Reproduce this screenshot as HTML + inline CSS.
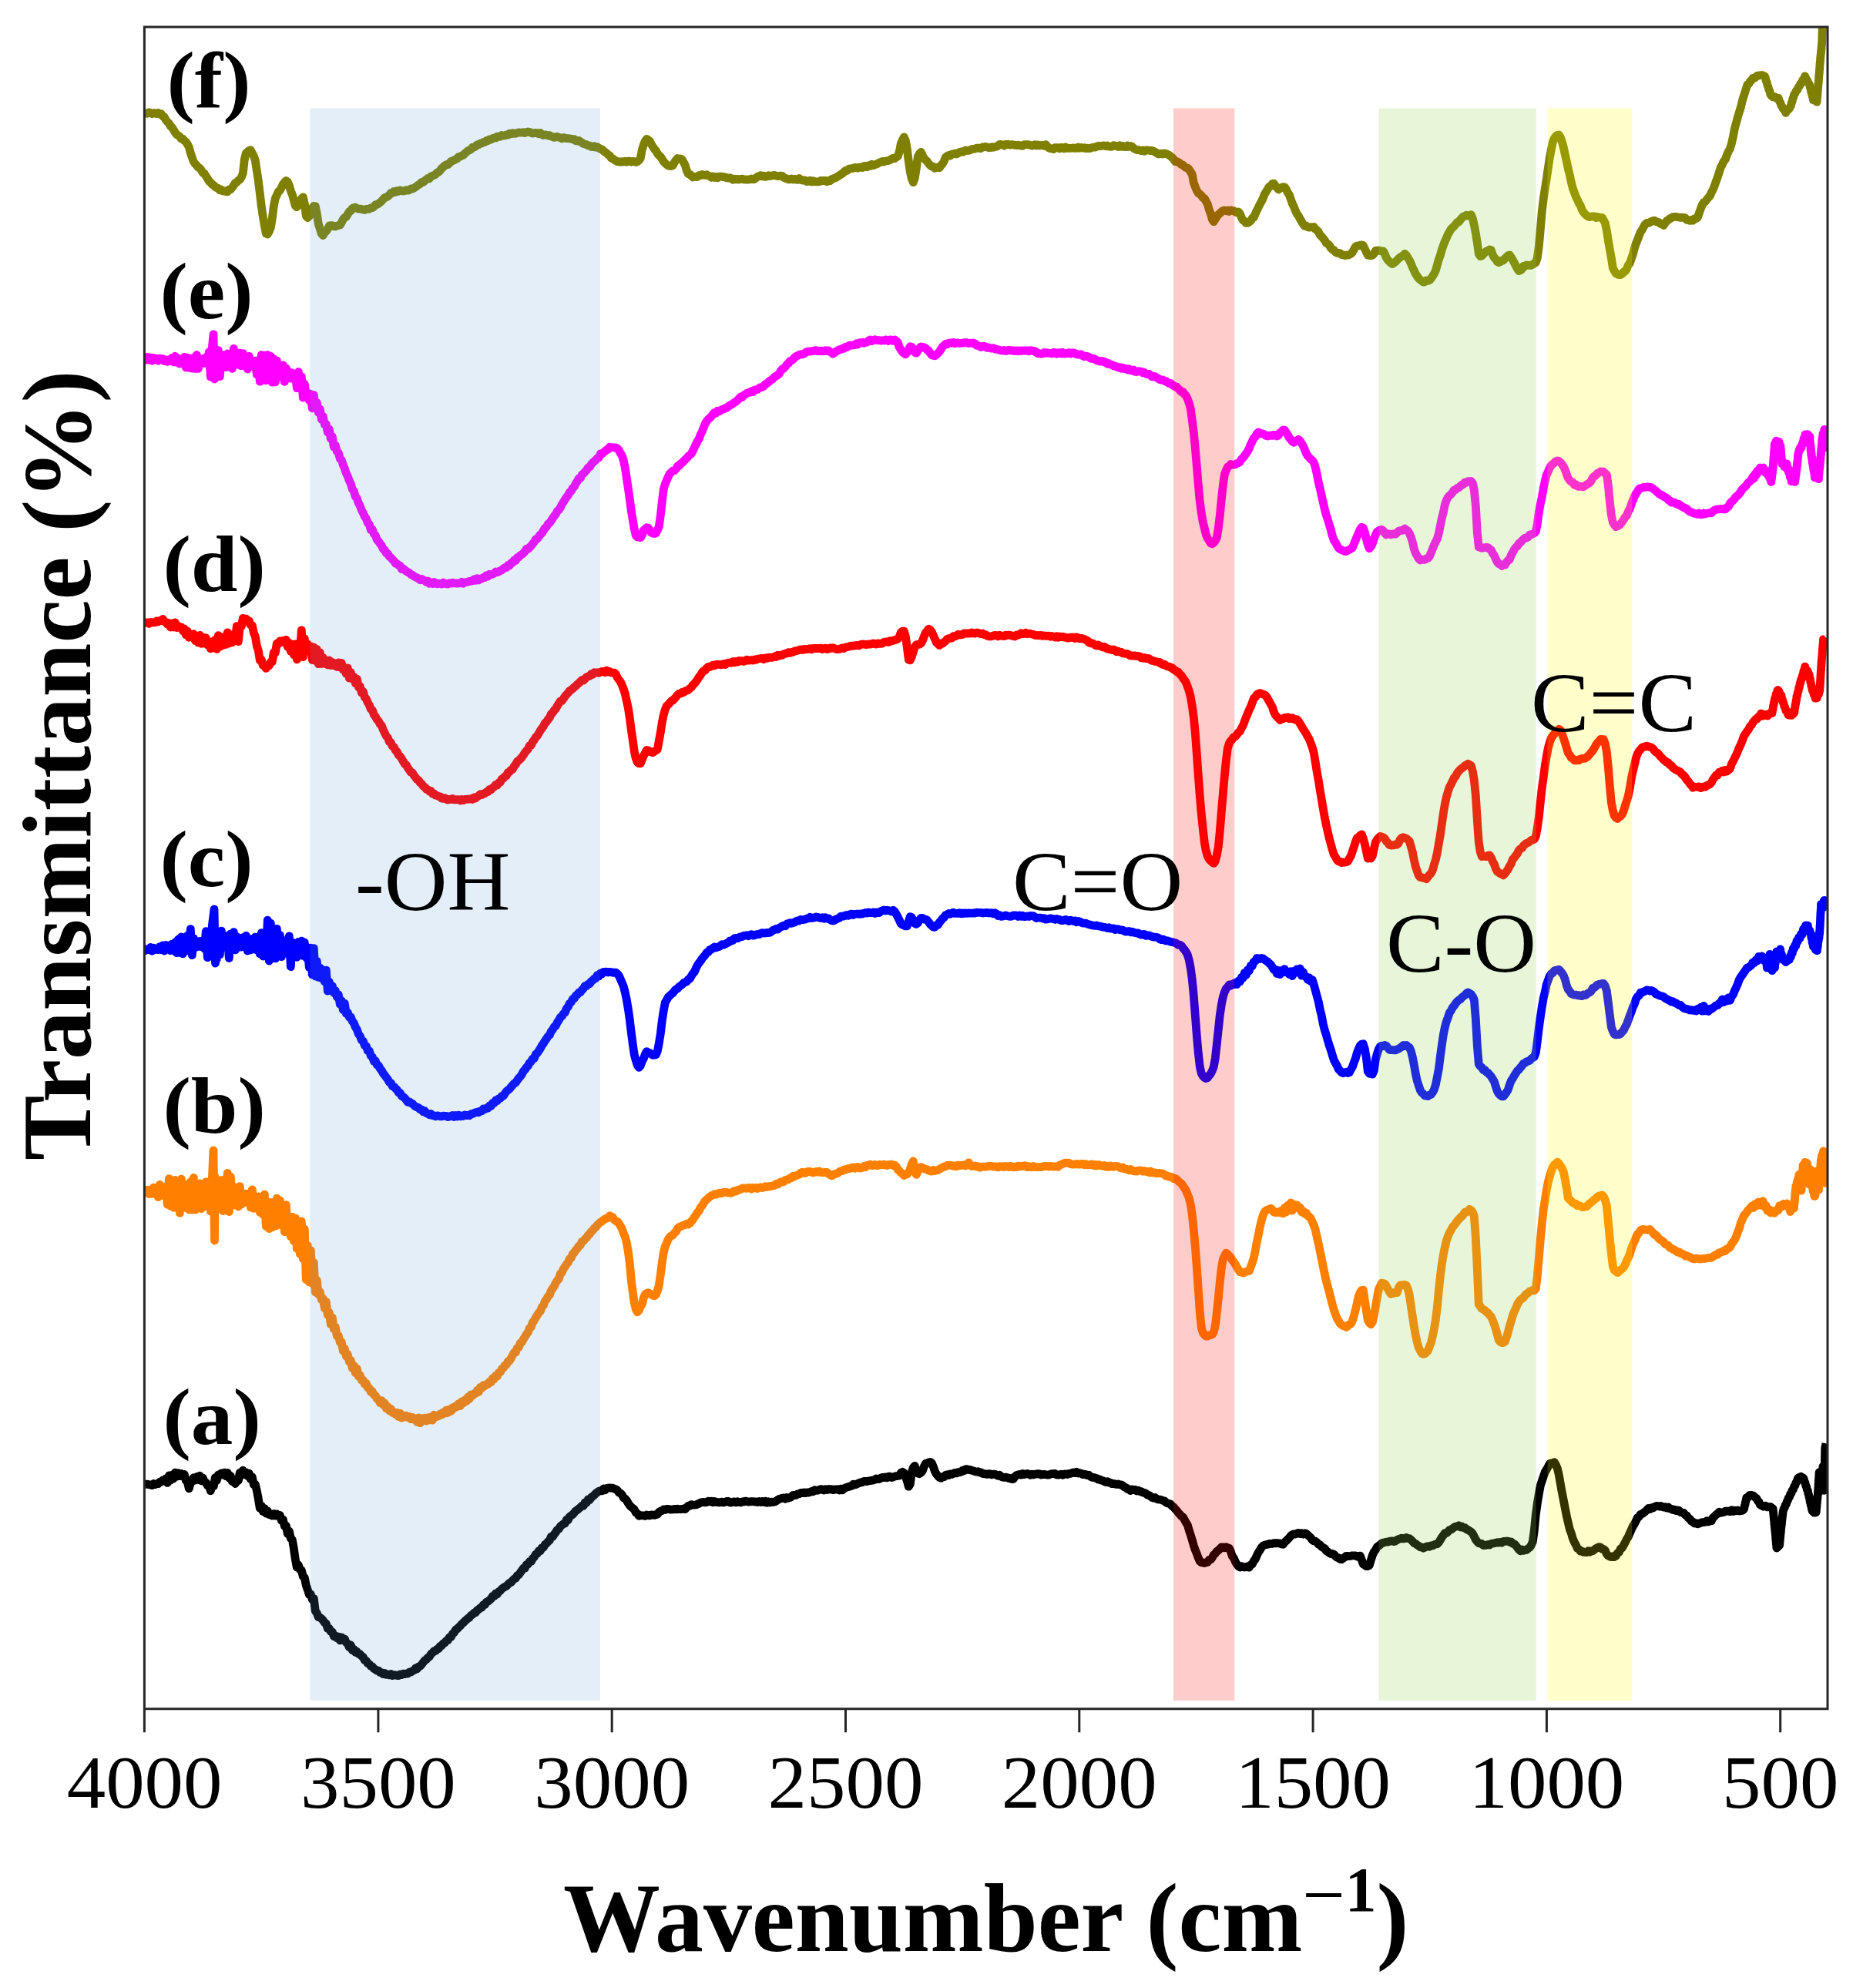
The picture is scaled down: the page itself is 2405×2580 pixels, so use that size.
<!DOCTYPE html>
<html><head><meta charset="utf-8"><title>FTIR spectra</title>
<style>
html,body{margin:0;padding:0;background:#fff;}
svg{display:block;}
text{font-family:"Liberation Serif",serif;fill:#000;}
.b{font-weight:bold;}
</style></head><body>
<svg width="2405" height="2580" viewBox="0 0 2405 2580">
<rect x="0" y="0" width="2405" height="2580" fill="#fff"/>
<defs><clipPath id="cp"><rect x="187.5" y="34" width="2183.5" height="2184.5"/></clipPath></defs>
<g clip-path="url(#cp)">
<path d="M187.3 1927.0 L189.3 1926.1 L191.3 1926.2 L193.3 1926.6 L195.3 1926.9 L197.3 1927.6 L199.3 1925.6 L201.3 1926.6 L203.3 1925.6 L205.3 1925.7 L207.3 1923.3 L209.3 1923.1 L211.3 1920.9 L213.3 1921.6 L215.3 1918.7 L217.3 1924.4 L219.3 1914.9 L221.3 1921.1 L223.3 1914.1 L225.3 1918.9 L227.3 1911.1 L229.3 1916.2 L231.3 1911.6 L233.3 1915.6 L235.3 1912.5 L237.3 1914.0 L239.3 1913.5 L241.3 1921.3 L243.3 1923.4 L245.3 1931.8 L247.3 1924.3 L249.3 1922.8 L251.3 1917.7 L253.3 1921.1 L255.3 1916.5 L257.3 1920.5 L259.3 1915.2 L261.3 1921.8 L263.3 1918.0 L265.3 1923.1 L267.3 1923.9 L269.3 1928.0 L271.3 1927.7 L273.3 1934.7 L275.3 1927.9 L277.3 1928.8 L279.3 1917.6 L281.3 1921.4 L283.3 1914.2 L285.3 1913.9 L287.3 1911.9 L289.3 1914.0 L291.3 1911.1 L293.3 1915.7 L295.3 1911.4 L297.3 1918.0 L299.3 1915.5 L301.3 1922.5 L303.3 1921.9 L305.3 1925.5 L307.3 1922.3 L309.3 1921.6 L311.3 1911.3 L313.3 1914.6 L315.3 1908.2 L317.3 1913.1 L319.3 1911.0 L321.3 1915.5 L323.3 1912.2 L325.3 1919.7 L327.3 1916.7 L329.3 1926.7 L331.3 1926.3 L333.3 1934.5 L335.3 1945.1 L337.3 1957.4 L339.3 1954.3 L341.3 1961.6 L343.3 1957.6 L345.3 1964.1 L347.3 1960.8 L349.3 1965.6 L351.3 1965.9 L353.3 1967.0 L355.3 1964.5 L357.3 1967.2 L359.3 1965.0 L361.3 1967.5 L363.3 1966.4 L365.3 1973.3 L367.3 1972.0 L369.3 1980.6 L371.3 1980.0 L373.3 1990.6 L375.3 1986.9 L377.3 1996.5 L379.3 1998.1 L381.3 2009.4 L383.3 2023.6 L385.3 2034.0 L387.3 2031.0 L389.3 2037.0 L391.3 2037.8 L393.3 2045.9 L395.3 2047.4 L397.3 2057.5 L399.3 2063.1 L401.3 2069.3 L403.3 2068.9 L405.3 2075.8 L407.3 2074.4 L409.3 2090.8 L411.3 2093.5 L413.3 2098.8 L415.3 2099.2 L417.3 2100.6 L419.3 2102.8 L421.3 2105.9 L423.3 2107.1 L425.3 2113.5 L427.3 2113.3 L429.3 2117.4 L431.3 2117.8 L433.3 2123.6 L435.3 2123.0 L437.3 2125.7 L439.3 2124.1 L441.3 2129.0 L443.3 2124.8 L445.3 2128.1 L447.3 2126.9 L449.3 2131.6 L451.3 2133.2 L453.3 2137.7 L455.3 2135.0 L457.3 2141.7 L459.3 2140.3 L461.3 2144.2 L463.3 2143.5 L465.3 2146.4 L467.3 2146.7 L469.3 2149.3 L471.3 2150.4 L473.3 2154.8 L475.3 2155.2 L477.3 2158.7 L479.3 2159.6 L481.3 2162.3 L483.3 2162.9 L485.3 2165.7 L487.3 2166.6 L489.3 2168.1 L491.3 2168.2 L493.3 2170.7 L495.3 2170.7 L497.3 2172.6 L499.3 2171.6 L501.3 2173.3 L503.3 2172.9 L505.3 2173.9 L507.3 2172.6 L509.3 2174.5 L511.3 2173.6 L513.3 2173.8 L515.3 2174.5 L517.3 2174.6 L519.3 2173.0 L521.3 2173.5 L523.3 2172.1 L525.3 2172.6 L527.3 2172.0 L529.3 2172.0 L531.3 2170.0 L533.3 2170.0 L535.3 2168.6 L537.3 2167.7 L539.3 2165.1 L541.3 2165.9 L543.3 2163.0 L545.3 2162.2 L547.3 2160.1 L549.3 2157.4 L551.3 2154.9 L553.3 2153.7 L555.3 2151.3 L557.3 2150.1 L559.3 2146.7 L561.3 2145.0 L563.3 2142.7 L565.3 2142.7 L567.3 2140.2 L569.3 2139.7 L571.3 2136.3 L573.3 2135.8 L575.3 2132.9 L577.3 2132.0 L579.3 2129.3 L581.3 2128.7 L583.3 2124.8 L585.3 2124.7 L587.3 2120.5 L589.3 2118.9 L591.3 2115.2 L593.3 2114.0 L595.3 2111.8 L597.3 2110.1 L599.3 2107.6 L601.3 2106.0 L603.3 2103.8 L605.3 2102.1 L607.3 2100.4 L609.3 2099.1 L611.3 2096.4 L613.3 2095.3 L615.3 2093.1 L617.3 2092.9 L619.3 2089.8 L621.3 2088.6 L623.3 2086.7 L625.3 2086.2 L627.3 2082.6 L629.3 2082.8 L631.3 2079.0 L633.3 2078.3 L635.3 2076.6 L637.3 2074.9 L639.3 2071.5 L641.3 2071.8 L643.3 2067.9 L645.3 2069.0 L647.3 2065.7 L649.3 2064.5 L651.3 2062.0 L653.3 2060.5 L655.3 2059.3 L657.3 2058.5 L659.3 2056.2 L661.3 2054.3 L663.3 2053.6 L665.3 2051.1 L667.3 2049.2 L669.3 2048.2 L671.3 2044.9 L673.3 2043.6 L675.3 2041.0 L677.3 2038.2 L679.3 2035.1 L681.3 2035.1 L683.3 2030.5 L685.3 2030.1 L687.3 2026.5 L689.3 2026.7 L691.3 2022.8 L693.3 2020.7 L695.3 2017.3 L697.3 2016.2 L699.3 2012.6 L701.3 2012.8 L703.3 2008.6 L705.3 2008.4 L707.3 2004.5 L709.3 2003.1 L711.3 2000.7 L713.3 1999.1 L715.3 1994.3 L717.3 1994.4 L719.3 1991.1 L721.3 1988.7 L723.3 1985.3 L725.3 1984.4 L727.3 1980.8 L729.3 1979.3 L731.3 1977.6 L733.3 1977.0 L735.3 1972.5 L737.3 1972.6 L739.3 1968.3 L741.3 1966.9 L743.3 1965.5 L745.3 1963.2 L747.3 1960.8 L749.3 1959.6 L751.3 1957.9 L753.3 1956.3 L755.3 1954.2 L757.3 1954.2 L759.3 1949.9 L761.3 1950.2 L763.3 1946.0 L765.3 1946.6 L767.3 1943.4 L769.3 1942.1 L771.3 1940.3 L773.3 1938.1 L775.3 1936.6 L777.3 1935.3 L779.3 1934.8 L781.3 1934.9 L783.3 1932.0 L785.3 1933.8 L787.3 1931.5 L789.3 1931.1 L791.3 1930.9 L793.3 1931.1 L795.3 1931.2 L797.3 1932.3 L799.3 1932.7 L801.3 1934.3 L803.3 1937.0 L805.3 1937.9 L807.3 1939.9 L809.3 1943.9 L811.3 1944.7 L813.3 1947.3 L815.3 1950.8 L817.3 1953.7 L819.3 1955.8 L821.3 1957.3 L823.3 1959.1 L825.3 1963.0 L827.3 1964.3 L829.3 1967.3 L831.3 1966.6 L833.3 1966.9 L835.3 1966.8 L837.3 1967.5 L839.3 1966.0 L841.3 1966.9 L843.3 1966.9 L845.3 1965.8 L847.3 1966.1 L849.3 1966.4 L851.3 1965.6 L853.3 1965.3 L855.3 1962.3 L857.3 1961.1 L859.3 1960.5 L861.3 1958.9 L863.3 1959.4 L865.3 1958.4 L867.3 1958.3 L869.3 1958.9 L871.3 1959.2 L873.3 1959.0 L875.3 1958.4 L877.3 1958.8 L879.3 1958.1 L881.3 1958.7 L883.3 1958.6 L885.3 1958.4 L887.3 1957.9 L889.3 1958.5 L891.3 1956.3 L893.3 1954.2 L895.3 1954.3 L897.3 1952.7 L899.3 1953.0 L901.3 1953.2 L903.3 1953.0 L905.3 1951.9 L907.3 1951.5 L909.3 1950.0 L911.3 1949.6 L913.3 1949.4 L915.3 1949.9 L917.3 1949.5 L919.3 1948.1 L921.3 1948.8 L923.3 1948.2 L925.3 1949.8 L927.3 1948.4 L929.3 1949.4 L931.3 1949.7 L933.3 1950.0 L935.3 1949.6 L937.3 1949.1 L939.3 1950.0 L941.3 1949.3 L943.3 1948.3 L945.3 1948.3 L947.3 1950.0 L949.3 1950.0 L951.3 1949.2 L953.3 1948.9 L955.3 1949.9 L957.3 1948.8 L959.3 1949.7 L961.3 1949.8 L963.3 1948.8 L965.3 1949.0 L967.3 1948.1 L969.3 1948.6 L971.3 1949.2 L973.3 1948.9 L975.3 1948.6 L977.3 1948.6 L979.3 1949.0 L981.3 1949.0 L983.3 1949.5 L985.3 1948.5 L987.3 1949.5 L989.3 1948.4 L991.3 1949.5 L993.3 1948.2 L995.3 1950.1 L997.3 1948.8 L999.3 1950.0 L1001.3 1949.2 L1003.3 1949.5 L1005.3 1949.0 L1007.3 1948.1 L1009.3 1946.7 L1011.3 1945.5 L1013.3 1944.9 L1015.3 1944.2 L1017.3 1943.8 L1019.3 1945.1 L1021.3 1943.4 L1023.3 1944.3 L1025.3 1943.5 L1027.3 1942.3 L1029.3 1940.3 L1031.3 1940.7 L1033.3 1940.4 L1035.3 1938.8 L1037.3 1938.8 L1039.3 1937.5 L1041.3 1937.6 L1043.3 1936.9 L1045.3 1937.6 L1047.3 1936.9 L1049.3 1937.2 L1051.3 1936.5 L1053.3 1935.4 L1055.3 1935.8 L1057.3 1933.7 L1059.3 1934.4 L1061.3 1934.2 L1063.3 1933.4 L1065.3 1932.6 L1067.3 1932.9 L1069.3 1934.0 L1071.3 1932.7 L1073.3 1933.5 L1075.3 1932.4 L1077.3 1933.0 L1079.3 1932.6 L1081.3 1933.6 L1083.3 1932.9 L1085.3 1933.1 L1087.3 1932.7 L1089.3 1933.9 L1091.3 1932.4 L1093.3 1933.9 L1095.3 1931.6 L1097.3 1931.0 L1099.3 1930.0 L1101.3 1929.6 L1103.3 1928.8 L1105.3 1928.5 L1107.3 1926.2 L1109.3 1926.9 L1111.3 1926.4 L1113.3 1925.4 L1115.3 1924.5 L1117.3 1923.7 L1119.3 1923.8 L1121.3 1922.3 L1123.3 1922.3 L1125.3 1922.7 L1127.3 1921.8 L1129.3 1921.7 L1131.3 1921.2 L1133.3 1921.1 L1135.3 1920.3 L1137.3 1919.0 L1139.3 1919.7 L1141.3 1919.4 L1143.3 1918.1 L1145.3 1917.4 L1147.3 1917.6 L1149.3 1916.9 L1151.3 1917.8 L1153.3 1916.2 L1155.3 1916.2 L1157.3 1917.5 L1159.3 1917.0 L1161.3 1916.0 L1163.3 1915.7 L1165.3 1915.4 L1167.3 1915.2 L1169.3 1911.5 L1171.3 1910.3 L1173.3 1911.4 L1175.3 1916.0 L1177.3 1921.9 L1179.3 1929.2 L1181.3 1926.1 L1183.3 1910.4 L1185.3 1904.6 L1187.3 1902.4 L1189.3 1908.2 L1191.3 1912.0 L1193.3 1912.8 L1195.3 1911.3 L1197.3 1908.9 L1199.3 1903.2 L1201.3 1899.5 L1203.3 1898.6 L1205.3 1898.0 L1207.3 1897.4 L1209.3 1898.7 L1211.3 1903.3 L1213.3 1909.2 L1215.3 1913.0 L1217.3 1915.4 L1219.3 1917.4 L1221.3 1918.2 L1223.3 1916.6 L1225.3 1916.9 L1227.3 1914.5 L1229.3 1913.6 L1231.3 1914.6 L1233.3 1913.0 L1235.3 1913.4 L1237.3 1912.3 L1239.3 1911.3 L1241.3 1911.9 L1243.3 1910.6 L1245.3 1910.8 L1247.3 1910.2 L1249.3 1908.1 L1251.3 1908.7 L1253.3 1906.6 L1255.3 1906.7 L1257.3 1907.6 L1259.3 1907.5 L1261.3 1908.3 L1263.3 1908.9 L1265.3 1909.6 L1267.3 1910.2 L1269.3 1909.7 L1271.3 1911.0 L1273.3 1910.8 L1275.3 1912.5 L1277.3 1912.5 L1279.3 1913.0 L1281.3 1913.4 L1283.3 1912.6 L1285.3 1912.8 L1287.3 1913.8 L1289.3 1913.2 L1291.3 1913.2 L1293.3 1914.1 L1295.3 1915.3 L1297.3 1914.2 L1299.3 1916.1 L1301.3 1917.1 L1303.3 1917.4 L1305.3 1917.2 L1307.3 1917.5 L1309.3 1918.6 L1311.3 1918.5 L1313.3 1919.7 L1315.3 1919.5 L1317.3 1916.3 L1319.3 1914.6 L1321.3 1913.9 L1323.3 1913.4 L1325.3 1914.0 L1327.3 1912.4 L1329.3 1913.6 L1331.3 1913.1 L1333.3 1912.5 L1335.3 1913.0 L1337.3 1914.3 L1339.3 1913.2 L1341.3 1913.9 L1343.3 1913.2 L1345.3 1913.1 L1347.3 1912.6 L1349.3 1912.9 L1351.3 1914.0 L1353.3 1913.5 L1355.3 1913.5 L1357.3 1913.6 L1359.3 1914.2 L1361.3 1914.1 L1363.3 1913.2 L1365.3 1912.6 L1367.3 1912.6 L1369.3 1912.5 L1371.3 1914.0 L1373.3 1914.2 L1375.3 1913.7 L1377.3 1913.2 L1379.3 1914.3 L1381.3 1913.1 L1383.3 1912.8 L1385.3 1913.5 L1387.3 1912.4 L1389.3 1912.4 L1391.3 1911.6 L1393.3 1910.9 L1395.3 1911.6 L1397.3 1910.3 L1399.3 1912.1 L1401.3 1911.6 L1403.3 1912.2 L1405.3 1913.6 L1407.3 1913.2 L1409.3 1913.6 L1411.3 1914.6 L1413.3 1914.2 L1415.3 1916.2 L1417.3 1917.4 L1419.3 1917.3 L1421.3 1918.1 L1423.3 1918.5 L1425.3 1920.1 L1427.3 1920.0 L1429.3 1921.2 L1431.3 1921.5 L1433.3 1922.8 L1435.3 1923.6 L1437.3 1922.6 L1439.3 1924.1 L1441.3 1924.4 L1443.3 1925.7 L1445.3 1925.3 L1447.3 1925.9 L1449.3 1926.4 L1451.3 1926.0 L1453.3 1926.9 L1455.3 1926.8 L1457.3 1928.1 L1459.3 1929.8 L1461.3 1930.5 L1463.3 1932.6 L1465.3 1932.6 L1467.3 1934.5 L1469.3 1933.0 L1471.3 1933.6 L1473.3 1933.3 L1475.3 1935.0 L1477.3 1934.2 L1479.3 1935.7 L1481.3 1935.6 L1483.3 1937.0 L1485.3 1937.4 L1487.3 1938.4 L1489.3 1940.1 L1491.3 1940.6 L1493.3 1941.9 L1495.3 1943.4 L1497.3 1944.2 L1499.3 1943.5 L1501.3 1945.2 L1503.3 1946.0 L1505.3 1946.2 L1507.3 1946.5 L1509.3 1947.5 L1511.3 1947.8 L1513.3 1949.9 L1515.3 1950.8 L1517.3 1951.4 L1519.3 1952.1 L1521.3 1954.7 L1523.3 1955.9 L1525.3 1958.4 L1527.3 1960.3 L1529.3 1963.2 L1531.3 1965.3 L1533.3 1967.6 L1535.3 1968.8 L1537.3 1972.2 L1539.3 1976.0 L1541.3 1979.1 L1543.3 1986.0 L1545.3 1992.1 L1547.3 1998.5 L1549.3 2005.8 L1551.3 2011.5 L1553.3 2016.4 L1555.3 2021.8 L1557.3 2026.1 L1559.3 2027.8 L1561.3 2028.0 L1563.3 2028.6 L1565.3 2027.8 L1567.3 2027.5 L1569.3 2024.3 L1571.3 2024.0 L1573.3 2021.6 L1575.3 2017.7 L1577.3 2016.2 L1579.3 2013.4 L1581.3 2012.0 L1583.3 2009.8 L1585.3 2007.9 L1587.3 2007.9 L1589.3 2008.9 L1591.3 2007.7 L1593.3 2008.9 L1595.3 2009.1 L1597.3 2013.4 L1599.3 2019.6 L1601.3 2022.0 L1603.3 2026.7 L1605.3 2030.0 L1607.3 2032.6 L1609.3 2034.0 L1611.3 2032.7 L1613.3 2033.7 L1615.3 2034.0 L1617.3 2033.6 L1619.3 2032.8 L1621.3 2034.1 L1623.3 2030.7 L1625.3 2029.9 L1627.3 2025.7 L1629.3 2023.4 L1631.3 2018.6 L1633.3 2014.5 L1635.3 2011.6 L1637.3 2008.2 L1639.3 2006.1 L1641.3 2005.2 L1643.3 2004.6 L1645.3 2004.4 L1647.3 2003.5 L1649.3 2003.5 L1651.3 2003.3 L1653.3 2002.6 L1655.3 2002.9 L1657.3 2002.5 L1659.3 2002.8 L1661.3 2002.8 L1663.3 2003.9 L1665.3 2004.3 L1667.3 2001.6 L1669.3 1999.8 L1671.3 1997.7 L1673.3 1995.8 L1675.3 1993.1 L1677.3 1991.6 L1679.3 1990.9 L1681.3 1991.0 L1683.3 1990.1 L1685.3 1989.4 L1687.3 1990.6 L1689.3 1989.6 L1691.3 1991.0 L1693.3 1989.8 L1695.3 1990.3 L1697.3 1992.1 L1699.3 1993.8 L1701.3 1995.7 L1703.3 1998.7 L1705.3 2000.0 L1707.3 2000.2 L1709.3 2001.7 L1711.3 2004.3 L1713.3 2004.8 L1715.3 2007.3 L1717.3 2008.6 L1719.3 2009.4 L1721.3 2012.7 L1723.3 2013.8 L1725.3 2015.5 L1727.3 2016.6 L1729.3 2016.3 L1731.3 2017.3 L1733.3 2019.6 L1735.3 2021.2 L1737.3 2021.9 L1739.3 2023.4 L1741.3 2023.8 L1743.3 2022.2 L1745.3 2021.1 L1747.3 2019.3 L1749.3 2019.5 L1751.3 2019.5 L1753.3 2019.3 L1755.3 2018.8 L1757.3 2018.8 L1759.3 2018.9 L1761.3 2020.0 L1763.3 2019.4 L1765.3 2019.2 L1767.3 2024.5 L1769.3 2029.9 L1771.3 2031.1 L1773.3 2032.5 L1775.3 2032.6 L1777.3 2031.5 L1779.3 2025.0 L1781.3 2018.4 L1783.3 2014.0 L1785.3 2011.5 L1787.3 2007.6 L1789.3 2006.3 L1791.3 2004.7 L1793.3 2002.8 L1795.3 2002.1 L1797.3 2001.7 L1799.3 2001.1 L1801.3 2001.1 L1803.3 2000.4 L1805.3 2000.0 L1807.3 2000.0 L1809.3 2000.6 L1811.3 1999.9 L1813.3 1998.5 L1815.3 1997.6 L1817.3 1996.9 L1819.3 1996.1 L1821.3 1997.0 L1823.3 1996.7 L1825.3 1995.5 L1827.3 1996.5 L1829.3 1996.6 L1831.3 1998.2 L1833.3 2000.2 L1835.3 2002.6 L1837.3 2003.4 L1839.3 2005.0 L1841.3 2006.3 L1843.3 2007.9 L1845.3 2007.8 L1847.3 2009.2 L1849.3 2008.3 L1851.3 2007.2 L1853.3 2006.6 L1855.3 2007.3 L1857.3 2006.0 L1859.3 2005.9 L1861.3 2004.8 L1863.3 2003.9 L1865.3 2003.8 L1867.3 2001.9 L1869.3 1998.7 L1871.3 1995.1 L1873.3 1992.6 L1875.3 1989.6 L1877.3 1989.7 L1879.3 1987.9 L1881.3 1985.7 L1883.3 1985.1 L1885.3 1983.6 L1887.3 1982.2 L1889.3 1981.2 L1891.3 1981.0 L1893.3 1979.8 L1895.3 1981.9 L1897.3 1981.0 L1899.3 1982.7 L1901.3 1982.6 L1903.3 1984.5 L1905.3 1985.7 L1907.3 1986.7 L1909.3 1988.0 L1911.3 1990.2 L1913.3 1994.0 L1915.3 1998.0 L1917.3 2000.7 L1919.3 2002.7 L1921.3 2003.1 L1923.3 2003.6 L1925.3 2005.5 L1927.3 2005.4 L1929.3 2005.3 L1931.3 2004.5 L1933.3 2005.1 L1935.3 2003.5 L1937.3 2003.0 L1939.3 2002.8 L1941.3 2002.3 L1943.3 2001.7 L1945.3 2002.1 L1947.3 2001.4 L1949.3 2002.2 L1951.3 2000.5 L1953.3 2000.4 L1955.3 2000.0 L1957.3 2000.2 L1959.3 2001.3 L1961.3 2001.0 L1963.3 2003.4 L1965.3 2003.6 L1967.3 2005.6 L1969.3 2008.3 L1971.3 2010.9 L1973.3 2012.7 L1975.3 2011.1 L1977.3 2012.4 L1979.3 2011.5 L1981.3 2011.5 L1983.3 2009.7 L1985.3 2008.3 L1987.3 2005.5 L1989.3 2000.8 L1991.3 1986.1 L1993.3 1965.5 L1995.3 1951.0 L1997.3 1939.0 L1999.3 1928.0 L2001.3 1922.1 L2003.3 1916.0 L2005.3 1910.4 L2007.3 1907.1 L2009.3 1903.5 L2011.3 1899.6 L2013.3 1898.9 L2015.3 1898.8 L2017.3 1897.6 L2019.3 1900.9 L2021.3 1905.6 L2023.3 1914.1 L2025.3 1925.6 L2027.3 1936.7 L2029.3 1946.9 L2031.3 1957.1 L2033.3 1967.4 L2035.3 1975.9 L2037.3 1984.6 L2039.3 1989.8 L2041.3 1996.7 L2043.3 2001.3 L2045.3 2004.9 L2047.3 2009.5 L2049.3 2010.5 L2051.3 2013.2 L2053.3 2013.1 L2055.3 2014.4 L2057.3 2014.3 L2059.3 2014.6 L2061.3 2012.9 L2063.3 2014.2 L2065.3 2012.9 L2067.3 2012.6 L2069.3 2011.3 L2071.3 2009.5 L2073.3 2008.7 L2075.3 2007.7 L2077.3 2008.0 L2079.3 2010.4 L2081.3 2010.5 L2083.3 2012.0 L2085.3 2016.8 L2087.3 2019.0 L2089.3 2020.1 L2091.3 2020.7 L2093.3 2019.6 L2095.3 2020.5 L2097.3 2019.2 L2099.3 2015.7 L2101.3 2014.4 L2103.3 2010.0 L2105.3 2008.9 L2107.3 2005.3 L2109.3 2001.8 L2111.3 1997.6 L2113.3 1994.6 L2115.3 1989.6 L2117.3 1985.3 L2119.3 1980.8 L2121.3 1977.8 L2123.3 1973.9 L2125.3 1969.5 L2127.3 1968.4 L2129.3 1965.3 L2131.3 1964.7 L2133.3 1963.1 L2135.3 1961.8 L2137.3 1959.8 L2139.3 1957.6 L2141.3 1958.6 L2143.3 1956.6 L2145.3 1957.1 L2147.3 1955.6 L2149.3 1954.8 L2151.3 1954.3 L2153.3 1955.2 L2155.3 1954.4 L2157.3 1955.4 L2159.3 1956.0 L2161.3 1955.7 L2163.3 1957.1 L2165.3 1956.1 L2167.3 1957.9 L2169.3 1958.3 L2171.3 1959.5 L2173.3 1959.2 L2175.3 1960.6 L2177.3 1959.9 L2179.3 1960.5 L2181.3 1962.6 L2183.3 1963.2 L2185.3 1963.4 L2187.3 1966.2 L2189.3 1967.0 L2191.3 1969.9 L2193.3 1971.3 L2195.3 1974.3 L2197.3 1975.1 L2199.3 1977.0 L2201.3 1976.7 L2203.3 1977.9 L2205.3 1977.1 L2207.3 1976.4 L2209.3 1975.6 L2211.3 1975.6 L2213.3 1975.2 L2215.3 1973.7 L2217.3 1974.9 L2219.3 1973.5 L2221.3 1973.8 L2223.3 1969.5 L2225.3 1967.8 L2227.3 1965.8 L2229.3 1964.4 L2231.3 1962.3 L2233.3 1963.3 L2235.3 1962.8 L2237.3 1962.5 L2239.3 1961.1 L2241.3 1961.2 L2243.3 1961.0 L2245.3 1961.8 L2247.3 1959.8 L2249.3 1961.4 L2251.3 1960.1 L2253.3 1960.8 L2255.3 1960.0 L2257.3 1961.0 L2259.3 1960.8 L2261.3 1960.4 L2263.1 1959.1 L2263.7 1957.9 L2264.3 1954.1 L2264.9 1952.9 L2265.5 1949.2 L2266.1 1947.7 L2266.7 1943.8 L2268.7 1943.5 L2270.6 1940.4 L2272.6 1940.4 L2275.6 1941.0 L2278.6 1944.0 L2280.0 1944.8 L2281.4 1947.9 L2282.9 1948.9 L2284.3 1952.6 L2285.7 1953.6 L2288.5 1955.1 L2291.2 1954.1 L2294.0 1955.9 L2297.6 1955.5 L2301.1 1958.0 L2301.3 1959.6 L2301.6 1962.9 L2301.8 1964.5 L2302.1 1968.4 L2302.3 1969.4 L2302.5 1973.2 L2302.8 1974.2 L2303.0 1978.4 L2303.3 1979.7 L2303.5 1983.2 L2303.7 1984.4 L2304.0 1988.4 L2304.2 1989.6 L2304.5 1993.4 L2304.7 1995.0 L2304.9 1998.7 L2305.2 2000.3 L2305.4 2004.0 L2305.7 2005.0 L2305.9 2009.1 L2309.5 2005.6 L2309.8 2004.5 L2310.0 2000.1 L2310.3 1998.8 L2310.5 1995.3 L2310.8 1993.5 L2311.0 1989.7 L2311.3 1988.4 L2311.5 1984.6 L2311.8 1982.9 L2312.1 1979.5 L2312.4 1978.1 L2312.7 1973.7 L2313.0 1972.4 L2313.3 1968.2 L2313.6 1967.4 L2313.9 1963.3 L2314.2 1961.7 L2315.2 1958.0 L2316.2 1956.7 L2317.2 1953.1 L2318.3 1952.2 L2319.3 1948.8 L2320.3 1947.3 L2321.3 1943.8 L2322.5 1942.8 L2323.7 1939.0 L2324.9 1938.0 L2326.1 1934.1 L2327.3 1933.1 L2328.5 1929.3 L2329.7 1928.2 L2330.9 1924.5 L2332.0 1923.0 L2333.2 1919.0 L2334.4 1917.7 L2337.4 1916.3 L2340.3 1918.1 L2341.2 1919.3 L2342.0 1923.2 L2342.9 1924.1 L2343.7 1927.9 L2344.6 1929.6 L2345.4 1933.4 L2346.3 1934.4 L2346.9 1938.6 L2347.5 1939.6 L2348.1 1943.2 L2348.7 1944.7 L2349.2 1949.0 L2349.8 1950.2 L2350.4 1953.8 L2351.0 1955.5 L2351.6 1959.0 L2352.2 1960.8 L2354.6 1963.2 L2357.0 1962.8 L2357.3 1961.6 L2357.5 1957.7 L2357.8 1956.3 L2358.0 1952.4 L2358.3 1950.9 L2358.5 1947.1 L2358.8 1945.5 L2359.0 1941.6 L2359.3 1940.1 L2359.5 1936.6 L2359.6 1935.0 L2359.8 1931.5 L2360.0 1930.1 L2360.1 1926.3 L2360.3 1924.9 L2360.4 1921.2 L2360.6 1919.6 L2360.8 1916.1 L2360.9 1914.5 L2361.1 1910.7 L2361.4 1914.7 L2361.6 1915.3 L2361.9 1919.7 L2362.2 1920.5 L2362.4 1924.6 L2362.7 1925.4 L2363.0 1929.2 L2363.2 1930.7 L2363.5 1934.2 L2363.7 1930.3 L2363.9 1928.7 L2364.2 1925.2 L2364.4 1923.5 L2364.6 1919.9 L2364.8 1918.2 L2365.0 1914.1 L2365.2 1912.7 L2365.5 1908.9 L2365.7 1907.3 L2365.9 1903.2 L2366.1 1907.3 L2366.2 1908.7 L2366.4 1913.1 L2366.5 1914.6 L2366.7 1918.2 L2366.8 1919.9 L2367.0 1923.4 L2367.1 1925.3 L2367.3 1928.8 L2367.4 1930.8 L2367.6 1934.3 L2367.7 1930.6 L2367.7 1929.6 L2367.8 1925.5 L2367.8 1924.0 L2367.9 1920.5 L2367.9 1919.5 L2368.0 1915.6 L2368.0 1914.2 L2368.1 1910.0 L2368.1 1908.9 L2368.2 1905.6 L2368.3 1904.3 L2368.3 1900.3 L2368.4 1898.9 L2368.4 1895.2 L2368.5 1893.8 L2368.5 1890.0 L2368.6 1888.5 L2368.6 1885.0 L2368.7 1883.9 L2368.7 1879.9 L2368.8 1878.9 L2370.0 1873.3" fill="none" stroke="#000000" stroke-width="10.8" stroke-linejoin="round" stroke-linecap="butt"/>
<path d="M187.3 1545.8 L189.3 1547.9 L191.3 1544.3 L193.3 1549.5 L195.3 1544.0 L197.3 1549.4 L199.3 1541.2 L201.3 1548.9 L203.3 1543.2 L205.3 1553.5 L207.3 1537.4 L209.3 1550.1 L211.3 1541.9 L213.3 1552.3 L215.3 1540.1 L217.3 1563.2 L219.3 1529.7 L221.3 1565.3 L223.3 1538.4 L225.3 1567.3 L227.3 1531.3 L229.3 1566.5 L231.3 1534.4 L233.3 1574.3 L235.3 1530.2 L237.3 1566.0 L239.3 1537.0 L241.3 1567.7 L243.3 1538.8 L245.3 1569.9 L247.3 1533.7 L249.3 1570.0 L251.3 1528.5 L253.3 1570.1 L255.3 1539.7 L257.3 1559.0 L259.3 1536.0 L261.3 1568.7 L263.3 1541.3 L265.3 1565.6 L267.3 1533.8 L269.3 1558.0 L271.3 1533.7 L273.3 1572.1 L275.3 1531.2 L277.0 1493.0 L278.5 1610.0 L279.3 1527.3 L281.3 1562.1 L283.3 1540.1 L285.3 1565.4 L287.3 1531.7 L289.3 1571.5 L291.3 1530.9 L293.3 1562.3 L295.3 1522.3 L297.3 1572.6 L299.3 1527.4 L301.3 1558.0 L303.3 1540.3 L305.3 1564.1 L307.3 1543.5 L309.3 1565.8 L311.3 1539.6 L313.3 1563.0 L315.3 1548.9 L317.3 1560.5 L319.3 1549.1 L321.3 1558.4 L323.3 1552.1 L325.3 1567.0 L327.3 1543.8 L329.3 1568.3 L331.3 1553.1 L333.3 1567.6 L335.3 1552.8 L337.3 1573.3 L339.3 1562.6 L341.3 1576.3 L343.3 1550.2 L345.3 1591.4 L347.3 1562.8 L349.3 1594.5 L351.3 1560.5 L353.3 1592.6 L355.3 1560.5 L357.3 1591.2 L359.3 1555.2 L361.3 1588.9 L363.3 1558.0 L365.3 1589.9 L367.3 1564.1 L369.3 1598.6 L371.3 1563.6 L373.3 1595.9 L375.3 1584.1 L377.3 1604.8 L379.3 1579.5 L381.3 1610.7 L383.3 1580.9 L385.3 1620.4 L387.3 1593.2 L389.3 1627.4 L391.3 1584.9 L393.3 1633.8 L395.3 1595.1 L397.3 1660.6 L399.3 1616.4 L401.3 1663.9 L403.3 1622.8 L405.3 1666.1 L407.3 1638.7 L409.3 1676.9 L411.3 1661.6 L413.3 1679.8 L415.3 1676.6 L417.3 1686.8 L419.3 1685.3 L421.3 1697.9 L423.3 1689.6 L425.3 1706.5 L427.3 1703.1 L429.3 1718.7 L431.3 1710.0 L433.3 1724.8 L435.3 1722.1 L437.3 1733.8 L439.3 1733.4 L441.3 1741.9 L443.3 1741.8 L445.3 1753.2 L447.3 1750.1 L449.3 1760.2 L451.3 1757.5 L453.3 1767.2 L455.3 1765.4 L457.3 1775.6 L459.3 1772.2 L461.3 1781.8 L463.3 1776.0 L465.3 1786.3 L467.3 1784.9 L469.3 1791.1 L471.3 1791.1 L473.3 1796.4 L475.3 1795.3 L477.3 1801.1 L479.3 1801.7 L481.3 1806.3 L483.3 1805.8 L485.3 1810.5 L487.3 1811.2 L489.3 1815.3 L491.3 1816.4 L493.3 1820.7 L495.3 1817.6 L497.3 1823.1 L499.3 1820.9 L501.3 1827.7 L503.3 1825.6 L505.3 1830.7 L507.3 1828.3 L509.3 1833.4 L511.3 1832.7 L513.3 1835.5 L515.3 1833.3 L517.3 1838.6 L519.3 1834.1 L521.3 1840.1 L523.3 1836.8 L525.3 1838.7 L527.3 1837.4 L529.3 1839.4 L531.3 1838.6 L533.3 1841.7 L535.3 1839.5 L537.3 1842.3 L539.3 1841.0 L541.3 1845.5 L543.3 1839.8 L545.3 1846.7 L547.3 1840.6 L549.3 1843.7 L551.3 1840.1 L553.3 1844.1 L555.3 1839.7 L557.3 1842.9 L559.3 1838.8 L561.3 1843.2 L563.3 1836.1 L565.3 1839.2 L567.3 1838.2 L569.3 1837.7 L571.3 1835.1 L573.3 1836.0 L575.3 1832.9 L577.3 1834.2 L579.3 1830.2 L581.3 1833.5 L583.3 1829.1 L585.3 1831.4 L587.3 1826.7 L589.3 1827.6 L591.3 1824.7 L593.3 1825.7 L595.3 1821.7 L597.3 1824.6 L599.3 1819.0 L601.3 1821.1 L603.3 1816.9 L605.3 1818.7 L607.3 1813.0 L609.3 1815.5 L611.3 1809.9 L613.3 1811.3 L615.3 1808.9 L617.3 1808.3 L619.3 1804.4 L621.3 1806.6 L623.3 1800.4 L625.3 1801.6 L627.3 1797.9 L629.3 1798.7 L631.3 1796.5 L633.3 1796.5 L635.3 1793.2 L637.3 1793.8 L639.3 1788.8 L641.3 1789.8 L643.3 1785.4 L645.3 1785.9 L647.3 1781.5 L649.3 1780.9 L651.3 1776.6 L653.3 1775.5 L655.3 1771.8 L657.3 1771.2 L659.3 1766.6 L661.3 1766.3 L663.3 1762.6 L665.3 1759.1 L667.3 1755.2 L669.3 1755.1 L671.3 1749.2 L673.3 1748.8 L675.3 1742.8 L677.3 1742.2 L679.3 1738.2 L681.3 1735.0 L683.3 1731.5 L685.3 1729.2 L687.3 1723.6 L689.3 1722.3 L691.3 1716.1 L693.3 1713.7 L695.3 1710.1 L697.3 1706.9 L699.3 1703.7 L701.3 1701.6 L703.3 1696.3 L705.3 1694.3 L707.3 1688.9 L709.3 1686.3 L711.3 1682.5 L713.3 1680.7 L715.3 1675.0 L717.3 1672.2 L719.3 1669.1 L721.3 1664.9 L723.3 1661.8 L725.3 1659.7 L727.3 1652.9 L729.3 1651.5 L731.3 1646.6 L733.3 1644.1 L735.3 1640.6 L737.3 1638.5 L739.3 1633.6 L741.3 1632.6 L743.3 1627.3 L745.3 1625.6 L747.3 1622.3 L749.3 1620.4 L751.3 1617.1 L753.3 1615.9 L755.3 1611.3 L757.3 1610.6 L759.3 1608.0 L761.3 1606.4 L763.3 1603.1 L765.3 1601.6 L767.3 1598.3 L769.3 1597.0 L771.3 1593.8 L773.3 1592.7 L775.3 1589.8 L777.3 1588.0 L779.3 1586.2 L781.3 1584.9 L783.3 1583.4 L785.3 1581.8 L787.3 1581.1 L789.3 1580.6 L791.3 1577.7 L793.3 1579.0 L795.3 1579.7 L797.3 1583.0 L799.3 1584.7 L801.3 1585.2 L803.3 1587.7 L805.3 1591.0 L807.3 1594.7 L809.3 1600.6 L811.3 1605.2 L813.3 1612.7 L815.3 1624.1 L817.3 1639.7 L819.3 1661.2 L821.3 1676.7 L823.3 1691.0 L825.3 1699.2 L827.3 1702.8 L829.3 1700.6 L831.3 1695.6 L833.3 1692.9 L835.3 1684.3 L837.3 1679.7 L839.3 1678.3 L841.3 1677.6 L843.3 1679.4 L845.3 1679.5 L847.3 1681.3 L849.3 1681.8 L851.3 1680.2 L853.3 1675.2 L855.3 1668.0 L857.3 1654.2 L859.3 1638.6 L861.3 1625.3 L863.3 1617.8 L865.3 1613.3 L867.3 1608.3 L869.3 1605.4 L871.3 1603.8 L873.3 1602.8 L875.3 1600.1 L877.3 1598.5 L879.3 1594.5 L881.3 1592.6 L883.3 1591.9 L885.3 1590.8 L887.3 1590.2 L889.3 1589.6 L891.3 1588.3 L893.3 1589.1 L895.3 1587.7 L897.3 1585.0 L899.3 1582.8 L901.3 1579.5 L903.3 1577.1 L905.3 1573.3 L907.3 1571.4 L909.3 1566.9 L911.3 1564.8 L913.3 1561.4 L915.3 1558.3 L917.3 1556.8 L919.3 1554.8 L921.3 1553.1 L923.3 1551.7 L925.3 1551.0 L927.3 1549.7 L929.3 1550.2 L931.3 1549.5 L933.3 1548.2 L935.3 1548.8 L937.3 1548.4 L939.3 1547.1 L941.3 1547.1 L943.3 1547.5 L945.3 1548.2 L947.3 1548.2 L949.3 1548.3 L951.3 1546.4 L953.3 1545.6 L955.3 1546.1 L957.3 1544.6 L959.3 1544.1 L961.3 1543.4 L963.3 1542.2 L965.3 1541.9 L967.3 1542.2 L969.3 1542.3 L971.3 1541.4 L973.3 1541.7 L975.3 1543.1 L977.3 1541.5 L979.3 1541.9 L981.3 1541.4 L983.3 1542.5 L985.3 1541.5 L987.3 1540.7 L989.3 1541.5 L991.3 1541.0 L993.3 1539.7 L995.3 1540.5 L997.3 1539.6 L999.3 1539.8 L1001.3 1539.1 L1003.3 1539.2 L1005.3 1538.0 L1007.3 1536.5 L1009.3 1537.1 L1011.3 1535.5 L1013.3 1533.8 L1015.3 1533.9 L1017.3 1533.6 L1019.3 1531.5 L1021.3 1531.1 L1023.3 1530.9 L1025.3 1528.8 L1027.3 1528.6 L1029.3 1526.3 L1031.3 1526.8 L1033.3 1525.7 L1035.3 1524.8 L1037.3 1524.1 L1039.3 1522.1 L1041.3 1521.2 L1043.3 1522.4 L1045.3 1522.5 L1047.3 1520.8 L1049.3 1520.4 L1051.3 1520.5 L1053.3 1521.2 L1055.3 1522.0 L1057.3 1521.3 L1059.3 1520.5 L1061.3 1521.1 L1063.3 1520.0 L1065.3 1521.5 L1067.3 1521.6 L1069.3 1521.6 L1071.3 1521.4 L1073.3 1521.4 L1075.3 1523.3 L1077.3 1524.5 L1079.3 1525.9 L1081.3 1525.2 L1083.3 1523.5 L1085.3 1523.2 L1087.3 1522.4 L1089.3 1520.9 L1091.3 1519.9 L1093.3 1519.7 L1095.3 1517.8 L1097.3 1518.2 L1099.3 1517.1 L1101.3 1516.5 L1103.3 1516.5 L1105.3 1515.4 L1107.3 1515.0 L1109.3 1516.3 L1111.3 1515.1 L1113.3 1514.5 L1115.3 1516.0 L1117.3 1515.9 L1119.3 1515.2 L1121.3 1513.6 L1123.3 1514.7 L1125.3 1512.4 L1127.3 1512.3 L1129.3 1511.1 L1131.3 1512.3 L1133.3 1512.6 L1135.3 1511.5 L1137.3 1512.4 L1139.3 1512.7 L1141.3 1511.5 L1143.3 1511.6 L1145.3 1512.1 L1147.3 1511.2 L1149.3 1511.9 L1151.3 1512.5 L1153.3 1511.3 L1155.3 1511.4 L1157.3 1511.1 L1159.3 1512.6 L1161.3 1512.2 L1163.3 1514.0 L1165.3 1517.9 L1167.3 1519.6 L1169.3 1521.8 L1171.3 1523.2 L1173.3 1525.6 L1175.3 1523.9 L1177.3 1524.0 L1179.3 1521.3 L1181.3 1517.6 L1183.3 1510.8 L1185.3 1507.0 L1187.3 1519.2 L1189.3 1524.4 L1191.3 1520.2 L1193.3 1515.9 L1195.3 1514.6 L1197.3 1515.7 L1199.3 1516.7 L1201.3 1517.4 L1203.3 1517.8 L1205.3 1519.0 L1207.3 1519.9 L1209.3 1520.1 L1211.3 1518.4 L1213.3 1519.5 L1215.3 1518.8 L1217.3 1518.6 L1219.3 1517.4 L1221.3 1516.1 L1223.3 1515.2 L1225.3 1514.1 L1227.3 1513.9 L1229.3 1512.3 L1231.3 1512.4 L1233.3 1512.2 L1235.3 1512.7 L1237.3 1513.4 L1239.3 1512.9 L1241.3 1513.8 L1243.3 1512.1 L1245.3 1512.5 L1247.3 1512.4 L1249.3 1512.3 L1251.3 1511.8 L1253.3 1512.9 L1255.3 1511.3 L1257.3 1508.8 L1259.3 1512.1 L1261.3 1513.5 L1263.3 1513.4 L1265.3 1513.0 L1267.3 1514.2 L1269.3 1513.6 L1271.3 1515.0 L1273.3 1515.0 L1275.3 1514.0 L1277.3 1514.2 L1279.3 1514.3 L1281.3 1513.9 L1283.3 1513.2 L1285.3 1513.5 L1287.3 1513.3 L1289.3 1514.2 L1291.3 1513.8 L1293.3 1514.1 L1295.3 1514.9 L1297.3 1513.6 L1299.3 1514.2 L1301.3 1513.6 L1303.3 1514.6 L1305.3 1513.4 L1307.3 1513.9 L1309.3 1514.6 L1311.3 1513.2 L1313.3 1514.1 L1315.3 1514.8 L1317.3 1514.4 L1319.3 1514.7 L1321.3 1513.1 L1323.3 1513.9 L1325.3 1513.4 L1327.3 1513.5 L1329.3 1513.0 L1331.3 1512.9 L1333.3 1514.7 L1335.3 1513.7 L1337.3 1514.6 L1339.3 1514.7 L1341.3 1513.4 L1343.3 1514.5 L1345.3 1514.7 L1347.3 1514.6 L1349.3 1514.7 L1351.3 1514.7 L1353.3 1513.9 L1355.3 1513.4 L1357.3 1513.6 L1359.3 1513.4 L1361.3 1514.0 L1363.3 1513.4 L1365.3 1513.8 L1367.3 1514.2 L1369.3 1513.9 L1371.3 1514.0 L1373.3 1514.3 L1375.3 1512.1 L1377.3 1511.4 L1379.3 1510.5 L1381.3 1509.5 L1383.3 1509.1 L1385.3 1509.4 L1387.3 1509.2 L1389.3 1510.6 L1391.3 1511.1 L1393.3 1511.2 L1395.3 1511.0 L1397.3 1510.5 L1399.3 1511.0 L1401.3 1511.0 L1403.3 1510.7 L1405.3 1510.4 L1407.3 1511.7 L1409.3 1510.7 L1411.3 1511.9 L1413.3 1512.0 L1415.3 1511.2 L1417.3 1510.9 L1419.3 1512.6 L1421.3 1511.4 L1423.3 1513.0 L1425.3 1511.6 L1427.3 1511.9 L1429.3 1512.8 L1431.3 1513.4 L1433.3 1512.5 L1435.3 1514.3 L1437.3 1513.3 L1439.3 1514.4 L1441.3 1512.9 L1443.3 1513.9 L1445.3 1514.4 L1447.3 1513.5 L1449.3 1513.5 L1451.3 1514.0 L1453.3 1515.3 L1455.3 1516.0 L1457.3 1515.0 L1459.3 1517.0 L1461.3 1517.0 L1463.3 1517.9 L1465.3 1518.9 L1467.3 1517.5 L1469.3 1518.9 L1471.3 1519.8 L1473.3 1519.9 L1475.3 1520.2 L1477.3 1519.2 L1479.3 1519.0 L1481.3 1519.1 L1483.3 1520.1 L1485.3 1519.7 L1487.3 1520.4 L1489.3 1520.3 L1491.3 1521.7 L1493.3 1520.1 L1495.3 1521.9 L1497.3 1521.8 L1499.3 1521.8 L1501.3 1522.9 L1503.3 1522.4 L1505.3 1522.6 L1507.3 1522.8 L1509.3 1523.1 L1511.3 1524.3 L1513.3 1526.4 L1515.3 1526.0 L1517.3 1527.3 L1519.3 1527.1 L1521.3 1527.9 L1523.3 1529.8 L1525.3 1529.4 L1527.3 1530.6 L1529.3 1532.7 L1531.3 1534.5 L1533.3 1536.0 L1535.3 1538.8 L1537.3 1542.0 L1539.3 1544.8 L1541.3 1550.3 L1543.3 1554.7 L1545.3 1563.4 L1547.3 1575.9 L1549.3 1595.8 L1551.3 1617.6 L1553.3 1644.6 L1555.3 1673.5 L1557.3 1703.0 L1559.3 1722.9 L1561.3 1729.7 L1563.3 1732.4 L1565.3 1734.2 L1567.3 1734.1 L1569.3 1732.9 L1571.3 1732.7 L1573.3 1732.0 L1575.3 1728.7 L1577.3 1720.5 L1579.3 1704.0 L1581.3 1684.9 L1583.3 1663.8 L1585.3 1645.8 L1587.3 1634.4 L1589.3 1629.8 L1591.3 1626.1 L1593.3 1627.6 L1595.3 1629.7 L1597.3 1631.7 L1599.3 1635.2 L1601.3 1637.7 L1603.3 1640.6 L1605.3 1644.3 L1607.3 1647.5 L1609.3 1650.9 L1611.3 1650.9 L1613.3 1652.1 L1615.3 1651.6 L1617.3 1650.2 L1619.3 1649.8 L1621.3 1649.5 L1623.3 1644.3 L1625.3 1638.7 L1627.3 1632.4 L1629.3 1623.0 L1631.3 1611.9 L1633.3 1602.4 L1635.3 1592.0 L1637.3 1584.0 L1639.3 1577.2 L1641.3 1572.7 L1643.3 1570.8 L1645.3 1569.9 L1647.3 1569.3 L1649.3 1568.3 L1651.3 1569.9 L1653.3 1573.0 L1655.3 1573.5 L1657.3 1573.6 L1659.3 1572.6 L1661.3 1573.6 L1663.3 1571.1 L1665.3 1574.9 L1667.3 1567.3 L1669.3 1573.0 L1671.3 1564.3 L1673.3 1568.8 L1675.3 1560.9 L1677.3 1571.0 L1679.3 1562.9 L1681.3 1566.4 L1683.3 1563.9 L1685.3 1568.3 L1687.3 1567.1 L1689.3 1572.8 L1691.3 1571.9 L1693.3 1575.2 L1695.3 1574.0 L1697.3 1577.8 L1699.3 1578.8 L1701.3 1581.3 L1703.3 1585.7 L1705.3 1590.2 L1707.3 1596.4 L1709.3 1605.5 L1711.3 1614.3 L1713.3 1624.0 L1715.3 1633.7 L1717.3 1643.6 L1719.3 1653.3 L1721.3 1662.5 L1723.3 1669.9 L1725.3 1677.1 L1727.3 1685.1 L1729.3 1692.9 L1731.3 1699.7 L1733.3 1705.5 L1735.3 1711.0 L1737.3 1714.0 L1739.3 1717.9 L1741.3 1719.3 L1743.3 1720.9 L1745.3 1721.0 L1747.3 1722.4 L1749.3 1720.9 L1751.3 1718.9 L1753.3 1718.0 L1755.3 1714.2 L1757.3 1707.9 L1759.3 1699.7 L1761.3 1691.4 L1763.3 1682.2 L1765.3 1677.3 L1767.3 1674.3 L1769.3 1674.2 L1771.3 1687.3 L1773.3 1700.7 L1775.3 1713.4 L1777.3 1717.0 L1779.3 1718.8 L1781.3 1715.9 L1783.3 1706.9 L1785.3 1696.1 L1787.3 1684.4 L1789.3 1673.7 L1791.3 1669.2 L1793.3 1665.2 L1795.3 1665.5 L1797.3 1666.1 L1799.3 1668.9 L1801.3 1672.9 L1803.3 1676.5 L1805.3 1679.3 L1807.3 1677.5 L1809.3 1678.3 L1811.3 1677.7 L1813.3 1677.6 L1815.3 1671.2 L1817.3 1667.9 L1819.3 1668.3 L1821.3 1667.5 L1823.3 1667.4 L1825.3 1668.4 L1827.3 1672.9 L1829.3 1680.9 L1831.3 1694.8 L1833.3 1708.2 L1835.3 1721.5 L1837.3 1732.5 L1839.3 1741.9 L1841.3 1749.0 L1843.3 1752.9 L1845.3 1756.5 L1847.3 1757.4 L1849.3 1756.8 L1851.3 1755.1 L1853.3 1753.1 L1855.3 1747.7 L1857.3 1742.6 L1859.3 1734.5 L1861.3 1725.0 L1863.3 1712.8 L1865.3 1696.9 L1867.3 1675.5 L1869.3 1656.6 L1871.3 1641.0 L1873.3 1628.3 L1875.3 1618.8 L1877.3 1610.2 L1879.3 1604.4 L1881.3 1599.8 L1883.3 1596.4 L1885.3 1592.5 L1887.3 1590.3 L1889.3 1587.7 L1891.3 1584.7 L1893.3 1582.4 L1895.3 1580.4 L1897.3 1578.5 L1899.3 1576.3 L1901.3 1573.2 L1903.3 1573.0 L1905.3 1571.7 L1907.3 1569.4 L1909.3 1570.5 L1911.3 1573.2 L1913.3 1578.3 L1915.3 1606.0 L1917.3 1647.1 L1919.3 1692.8 L1921.3 1695.5 L1923.3 1698.3 L1925.3 1699.4 L1927.3 1700.5 L1929.3 1702.8 L1931.3 1704.0 L1933.3 1706.8 L1935.3 1708.5 L1937.3 1713.2 L1939.3 1718.6 L1941.3 1724.5 L1943.3 1731.9 L1945.3 1739.4 L1947.3 1741.5 L1949.3 1742.7 L1951.3 1742.4 L1953.3 1741.2 L1955.3 1735.4 L1957.3 1728.9 L1959.3 1721.1 L1961.3 1714.6 L1963.3 1707.3 L1965.3 1702.3 L1967.3 1698.0 L1969.3 1693.0 L1971.3 1689.5 L1973.3 1686.9 L1975.3 1685.5 L1977.3 1684.1 L1979.3 1681.1 L1981.3 1679.1 L1983.3 1678.0 L1985.3 1676.0 L1987.3 1675.1 L1989.3 1674.4 L1991.3 1674.9 L1993.3 1672.3 L1995.3 1655.8 L1997.3 1633.3 L1999.3 1608.7 L2001.3 1587.7 L2003.3 1569.5 L2005.3 1557.0 L2007.3 1544.3 L2009.3 1534.0 L2011.3 1526.8 L2013.3 1520.0 L2015.3 1514.8 L2017.3 1511.5 L2019.3 1510.2 L2021.3 1508.1 L2023.3 1509.9 L2025.3 1513.0 L2027.3 1516.1 L2029.3 1520.9 L2031.3 1530.4 L2033.3 1541.8 L2035.3 1555.0 L2037.3 1556.8 L2039.3 1558.9 L2041.3 1560.8 L2043.3 1562.2 L2045.3 1562.1 L2047.3 1564.8 L2049.3 1564.4 L2051.3 1565.2 L2053.3 1566.7 L2055.3 1566.7 L2057.3 1565.9 L2059.3 1565.9 L2061.3 1563.4 L2063.3 1561.9 L2065.3 1560.3 L2067.3 1558.6 L2069.3 1556.5 L2071.3 1555.5 L2073.3 1553.3 L2075.3 1552.0 L2077.3 1551.9 L2079.3 1551.0 L2081.3 1552.9 L2083.3 1557.2 L2085.3 1564.7 L2087.3 1585.2 L2089.3 1606.7 L2091.3 1626.6 L2093.3 1643.2 L2095.3 1648.5 L2097.3 1650.2 L2099.3 1651.6 L2101.3 1650.1 L2103.3 1648.2 L2105.3 1646.8 L2107.3 1644.5 L2109.3 1641.1 L2111.3 1636.3 L2113.3 1632.1 L2115.3 1627.7 L2117.3 1620.5 L2119.3 1615.2 L2121.3 1611.2 L2123.3 1606.1 L2125.3 1601.7 L2127.3 1599.8 L2129.3 1596.6 L2131.3 1595.6 L2133.3 1595.5 L2135.3 1595.8 L2137.3 1596.0 L2139.3 1596.1 L2141.3 1595.4 L2143.3 1597.7 L2145.3 1599.5 L2147.3 1602.6 L2149.3 1602.8 L2151.3 1605.2 L2153.3 1607.8 L2155.3 1609.2 L2157.3 1610.1 L2159.3 1612.0 L2161.3 1614.6 L2163.3 1615.3 L2165.3 1616.5 L2167.3 1619.2 L2169.3 1619.8 L2171.3 1621.6 L2173.3 1621.8 L2175.3 1623.7 L2177.3 1625.2 L2179.3 1624.7 L2181.3 1626.6 L2183.3 1627.2 L2185.3 1628.2 L2187.3 1630.1 L2189.3 1629.6 L2191.3 1630.6 L2193.3 1631.5 L2195.3 1632.9 L2197.3 1633.4 L2199.3 1633.9 L2201.3 1633.1 L2203.3 1633.3 L2205.3 1633.8 L2207.3 1634.0 L2209.3 1633.7 L2211.3 1633.4 L2213.3 1633.3 L2215.3 1632.8 L2217.3 1632.5 L2219.3 1632.5 L2221.3 1632.3 L2223.3 1630.8 L2225.3 1629.5 L2227.3 1628.1 L2229.3 1628.2 L2231.3 1625.5 L2233.3 1625.3 L2235.3 1624.6 L2237.3 1623.1 L2239.3 1623.5 L2241.3 1620.6 L2243.3 1620.3 L2245.3 1618.6 L2247.3 1614.7 L2249.3 1611.9 L2251.3 1609.3 L2253.3 1605.0 L2255.3 1599.3 L2257.3 1594.6 L2259.3 1587.1 L2261.3 1582.9 L2263.3 1577.6 L2265.3 1575.6 L2267.3 1573.0 L2269.3 1570.1 L2271.3 1568.2 L2273.8 1565.1 L2275.9 1567.5 L2277.9 1562.5 L2280.0 1564.9 L2282.1 1559.9 L2285.1 1564.3 L2288.1 1558.7 L2290.1 1566.1 L2292.0 1564.4 L2294.0 1571.3 L2296.0 1569.3 L2298.0 1574.0 L2300.0 1571.5 L2302.9 1574.4 L2305.9 1570.4 L2307.9 1570.7 L2309.8 1564.6 L2311.8 1566.5 L2314.8 1562.2 L2317.8 1564.4 L2319.3 1562.0 L2320.8 1566.9 L2322.2 1564.7 L2323.7 1572.5 L2326.1 1565.8 L2328.5 1568.0 L2328.8 1560.7 L2329.0 1562.7 L2329.3 1555.7 L2329.5 1557.4 L2329.8 1549.7 L2330.0 1551.5 L2330.3 1544.6 L2330.5 1545.5 L2330.8 1539.5 L2331.5 1541.6 L2332.2 1534.4 L2332.9 1535.2 L2333.5 1530.1 L2334.2 1531.2 L2334.9 1524.9 L2335.6 1524.9 L2335.9 1523.8 L2336.2 1530.0 L2336.5 1529.1 L2336.8 1535.4 L2337.1 1534.1 L2337.4 1541.3 L2337.7 1538.4 L2338.0 1545.2 L2338.2 1538.6 L2338.4 1539.6 L2338.6 1534.0 L2338.8 1535.6 L2339.0 1528.0 L2339.2 1529.8 L2339.3 1522.7 L2339.5 1523.3 L2339.7 1518.1 L2339.9 1518.2 L2340.1 1512.3 L2340.3 1514.5 L2342.7 1508.5 L2345.1 1509.2 L2345.3 1509.3 L2345.5 1515.5 L2345.8 1512.8 L2346.0 1519.3 L2346.2 1518.9 L2346.4 1525.8 L2346.6 1525.1 L2346.8 1529.8 L2347.1 1529.9 L2347.3 1536.5 L2347.5 1533.6 L2347.9 1535.1 L2348.3 1528.1 L2348.7 1530.7 L2349.0 1522.8 L2349.4 1523.7 L2349.8 1518.0 L2350.1 1523.8 L2350.4 1522.4 L2350.7 1529.4 L2351.0 1528.7 L2351.3 1534.4 L2351.6 1534.3 L2351.9 1539.6 L2352.2 1538.9 L2353.1 1545.7 L2354.0 1544.9 L2354.9 1552.5 L2355.8 1552.1 L2356.0 1551.7 L2356.2 1545.5 L2356.3 1547.4 L2356.5 1540.3 L2356.7 1542.1 L2356.9 1535.0 L2357.0 1536.6 L2357.2 1531.6 L2357.4 1532.3 L2357.6 1525.6 L2357.7 1527.5 L2357.9 1520.0 L2358.1 1522.7 L2358.4 1520.4 L2358.7 1526.7 L2359.0 1526.5 L2359.3 1531.7 L2359.6 1530.9 L2359.9 1537.4 L2360.2 1536.6 L2360.5 1544.3 L2360.7 1536.6 L2360.9 1538.7 L2361.1 1532.5 L2361.4 1532.1 L2361.6 1526.5 L2361.8 1528.1 L2362.0 1521.1 L2362.2 1522.4 L2362.4 1515.6 L2362.6 1517.8 L2362.9 1510.8 L2363.1 1512.9 L2363.3 1506.1 L2363.5 1506.5 L2364.5 1499.5 L2365.5 1501.8 L2366.5 1493.9 L2366.6 1500.6 L2366.8 1498.9 L2366.9 1505.9 L2367.1 1504.8 L2367.2 1509.9 L2367.4 1508.5 L2367.5 1516.3 L2367.7 1515.3 L2367.8 1521.3 L2367.9 1519.2 L2368.1 1525.3 L2368.2 1523.7 L2368.4 1530.4 L2368.5 1529.1 L2368.7 1535.2 L2368.8 1535.3 L2368.9 1535.1 L2369.0 1529.5 L2369.1 1531.3 L2369.2 1525.0 L2369.3 1526.1 L2369.4 1520.1 L2369.5 1520.6 L2369.6 1513.2 L2369.7 1514.7 L2369.8 1508.4 L2369.9 1510.2 L2370.0 1504.4 L2370.1 1509.8 L2370.1 1509.3 L2370.2 1515.2 L2370.3 1515.1 L2370.3 1521.5 L2370.4 1518.5 L2370.5 1526.6 L2370.5 1524.4 L2370.6 1529.4" fill="none" stroke="#ff8000" stroke-width="10.8" stroke-linejoin="round" stroke-linecap="butt"/>
<path d="M187.3 1231.5 L189.3 1233.3 L191.3 1231.8 L193.3 1232.7 L195.3 1229.5 L197.3 1234.2 L199.3 1230.1 L201.3 1232.6 L203.3 1231.0 L205.3 1232.7 L207.3 1228.6 L209.3 1232.6 L211.3 1226.8 L213.3 1234.0 L215.3 1226.5 L217.3 1231.2 L219.3 1227.0 L221.3 1233.7 L223.3 1225.2 L225.3 1233.8 L227.3 1223.0 L229.3 1236.7 L231.3 1219.2 L233.3 1236.4 L235.3 1215.9 L237.3 1237.9 L239.3 1220.7 L241.3 1234.0 L243.3 1214.2 L245.3 1234.1 L247.3 1205.7 L249.3 1239.6 L251.3 1217.6 L253.3 1230.0 L255.3 1222.4 L257.3 1228.4 L259.3 1221.3 L261.3 1228.7 L263.3 1222.1 L265.3 1231.1 L267.3 1208.7 L269.3 1242.6 L271.3 1210.3 L273.3 1239.8 L275.3 1201.5 L278.0 1180.0 L279.5 1250.0 L279.3 1211.8 L281.3 1244.6 L283.3 1215.2 L285.3 1238.8 L287.3 1208.1 L289.3 1229.1 L291.3 1220.9 L293.3 1228.5 L295.3 1214.4 L297.3 1243.5 L299.3 1211.8 L301.3 1231.2 L303.3 1209.7 L305.3 1232.8 L307.3 1215.5 L309.3 1229.4 L311.3 1218.8 L313.3 1229.0 L315.3 1216.6 L317.3 1227.4 L319.3 1214.4 L321.3 1234.0 L323.3 1219.3 L325.3 1232.8 L327.3 1218.4 L329.3 1231.8 L331.3 1216.1 L333.3 1233.1 L335.3 1216.8 L337.3 1237.9 L339.3 1210.6 L341.3 1241.0 L343.3 1212.4 L345.3 1238.8 L347.3 1194.1 L349.3 1247.1 L351.3 1198.1 L353.3 1243.2 L355.3 1210.0 L357.3 1243.9 L359.3 1205.4 L361.3 1232.0 L363.3 1213.5 L365.3 1241.6 L367.3 1223.6 L369.3 1229.3 L371.3 1220.3 L373.3 1237.7 L375.3 1215.0 L377.3 1254.6 L379.3 1223.0 L381.3 1235.9 L383.3 1226.6 L385.3 1242.3 L387.3 1222.5 L389.3 1236.8 L391.3 1221.2 L393.3 1240.4 L395.3 1223.2 L397.3 1242.8 L399.3 1232.7 L401.3 1255.6 L403.3 1230.2 L405.3 1265.0 L407.3 1230.6 L409.3 1267.0 L411.3 1247.4 L413.3 1268.4 L415.3 1256.0 L417.3 1269.6 L419.3 1258.7 L421.3 1274.0 L423.3 1259.1 L425.3 1286.1 L427.3 1274.2 L429.3 1281.0 L431.3 1279.5 L433.3 1288.4 L435.3 1285.7 L437.3 1293.8 L439.3 1290.8 L441.3 1303.3 L443.3 1298.6 L445.3 1310.5 L447.3 1302.3 L449.3 1315.5 L451.3 1314.0 L453.3 1319.9 L455.3 1319.9 L457.3 1325.3 L459.3 1327.6 L461.3 1333.0 L463.3 1336.2 L465.3 1342.0 L467.3 1344.5 L469.3 1350.0 L471.3 1351.0 L473.3 1356.8 L475.3 1357.5 L477.3 1363.5 L479.3 1363.8 L481.3 1370.2 L483.3 1371.7 L485.3 1377.3 L487.3 1377.0 L489.3 1382.0 L491.3 1382.9 L493.3 1386.9 L495.3 1389.3 L497.3 1393.1 L499.3 1395.3 L501.3 1398.2 L503.3 1400.8 L505.3 1404.6 L507.3 1405.4 L509.3 1409.7 L511.3 1410.2 L513.3 1412.7 L515.3 1414.3 L517.3 1418.0 L519.3 1418.3 L521.3 1422.5 L523.3 1423.4 L525.3 1425.1 L527.3 1427.5 L529.3 1430.3 L531.3 1429.8 L533.3 1431.6 L535.3 1432.2 L537.3 1434.5 L539.3 1436.2 L541.3 1436.9 L543.3 1437.6 L545.3 1439.9 L547.3 1440.0 L549.3 1442.8 L551.3 1441.8 L553.3 1444.6 L555.3 1445.3 L557.3 1446.8 L559.3 1445.6 L561.3 1447.6 L563.3 1447.9 L565.3 1448.8 L567.3 1447.9 L569.3 1448.2 L571.3 1448.8 L573.3 1448.9 L575.3 1448.2 L577.3 1448.4 L579.3 1448.3 L581.3 1449.7 L583.3 1449.1 L585.3 1448.2 L587.3 1447.4 L589.3 1449.5 L591.3 1447.6 L593.3 1448.9 L595.3 1447.4 L597.3 1448.9 L599.3 1448.0 L601.3 1448.5 L603.3 1447.0 L605.3 1447.6 L607.3 1447.4 L609.3 1447.8 L611.3 1445.6 L613.3 1445.7 L615.3 1444.5 L617.3 1443.7 L619.3 1443.2 L621.3 1443.9 L623.3 1441.8 L625.3 1441.9 L627.3 1439.0 L629.3 1439.6 L631.3 1438.2 L633.3 1438.3 L635.3 1435.0 L637.3 1435.5 L639.3 1431.6 L641.3 1431.8 L643.3 1428.0 L645.3 1428.7 L647.3 1425.7 L649.3 1425.3 L651.3 1422.5 L653.3 1422.4 L655.3 1419.2 L657.3 1416.4 L659.3 1414.7 L661.3 1413.2 L663.3 1410.6 L665.3 1408.4 L667.3 1406.1 L669.3 1405.2 L671.3 1402.0 L673.3 1399.3 L675.3 1397.2 L677.3 1394.4 L679.3 1390.3 L681.3 1388.3 L683.3 1385.2 L685.3 1383.3 L687.3 1379.2 L689.3 1377.7 L691.3 1374.1 L693.3 1373.6 L695.3 1368.3 L697.3 1366.7 L699.3 1363.9 L701.3 1360.7 L703.3 1356.9 L705.3 1354.2 L707.3 1350.8 L709.3 1348.0 L711.3 1344.9 L713.3 1343.3 L715.3 1338.5 L717.3 1336.2 L719.3 1332.5 L721.3 1331.4 L723.3 1326.9 L725.3 1324.1 L727.3 1320.2 L729.3 1318.8 L731.3 1315.6 L733.3 1314.2 L735.3 1308.8 L737.3 1306.6 L739.3 1302.3 L741.3 1300.5 L743.3 1296.7 L745.3 1295.7 L747.3 1292.2 L749.3 1290.8 L751.3 1288.1 L753.3 1287.7 L755.3 1284.7 L757.3 1282.9 L759.3 1279.4 L761.3 1279.5 L763.3 1277.3 L765.3 1276.8 L767.3 1273.7 L769.3 1272.3 L771.3 1270.0 L773.3 1269.8 L775.3 1265.5 L777.3 1267.0 L779.3 1263.0 L781.3 1263.9 L783.3 1261.3 L785.3 1261.4 L787.3 1261.2 L789.3 1262.0 L791.3 1261.3 L793.3 1261.5 L795.3 1262.4 L797.3 1262.2 L799.3 1262.1 L801.3 1263.8 L803.3 1266.2 L805.3 1270.7 L807.3 1275.3 L809.3 1280.0 L811.3 1287.9 L813.3 1297.3 L815.3 1309.3 L817.3 1323.3 L819.3 1340.2 L821.3 1355.2 L823.3 1369.0 L825.3 1376.2 L827.3 1382.6 L829.3 1385.3 L831.3 1383.2 L833.3 1377.2 L835.3 1373.8 L837.3 1368.3 L839.3 1364.6 L841.3 1366.2 L843.3 1366.6 L845.3 1367.9 L847.3 1369.4 L849.3 1369.2 L851.3 1368.7 L853.3 1364.2 L855.3 1354.0 L857.3 1341.5 L859.3 1324.6 L861.3 1311.7 L863.3 1301.1 L865.3 1297.8 L867.3 1294.0 L869.3 1292.2 L871.3 1290.2 L873.3 1288.7 L875.3 1286.1 L877.3 1283.8 L879.3 1283.2 L881.3 1280.7 L883.3 1279.3 L885.3 1277.8 L887.3 1275.7 L889.3 1274.7 L891.3 1273.9 L893.3 1271.2 L895.3 1270.2 L897.3 1266.7 L899.3 1263.4 L901.3 1261.4 L903.3 1256.6 L905.3 1252.5 L907.3 1249.6 L909.3 1247.1 L911.3 1243.9 L913.3 1241.8 L915.3 1239.2 L917.3 1236.2 L919.3 1235.6 L921.3 1232.5 L923.3 1232.4 L925.3 1230.3 L927.3 1229.0 L929.3 1230.1 L931.3 1229.0 L933.3 1228.6 L935.3 1227.1 L937.3 1225.6 L939.3 1226.2 L941.3 1225.1 L943.3 1224.1 L945.3 1223.3 L947.3 1221.0 L949.3 1221.1 L951.3 1220.4 L953.3 1217.7 L955.3 1217.4 L957.3 1217.8 L959.3 1216.6 L961.3 1215.6 L963.3 1215.7 L965.3 1214.3 L967.3 1214.1 L969.3 1213.7 L971.3 1214.7 L973.3 1213.4 L975.3 1212.6 L977.3 1214.1 L979.3 1213.8 L981.3 1212.9 L983.3 1212.5 L985.3 1212.6 L987.3 1211.3 L989.3 1210.6 L991.3 1211.0 L993.3 1210.9 L995.3 1210.4 L997.3 1210.7 L999.3 1210.3 L1001.3 1209.0 L1003.3 1207.2 L1005.3 1206.6 L1007.3 1205.4 L1009.3 1206.1 L1011.3 1204.1 L1013.3 1203.2 L1015.3 1201.9 L1017.3 1201.1 L1019.3 1201.8 L1021.3 1199.1 L1023.3 1198.6 L1025.3 1197.6 L1027.3 1198.4 L1029.3 1197.5 L1031.3 1197.0 L1033.3 1195.6 L1035.3 1194.8 L1037.3 1195.0 L1039.3 1193.3 L1041.3 1193.7 L1043.3 1193.5 L1045.3 1193.0 L1047.3 1192.1 L1049.3 1191.8 L1051.3 1190.2 L1053.3 1191.5 L1055.3 1191.1 L1057.3 1190.8 L1059.3 1190.0 L1061.3 1190.4 L1063.3 1191.0 L1065.3 1191.5 L1067.3 1190.8 L1069.3 1192.2 L1071.3 1190.7 L1073.3 1192.2 L1075.3 1191.9 L1077.3 1193.4 L1079.3 1194.6 L1081.3 1195.0 L1083.3 1194.3 L1085.3 1192.7 L1087.3 1192.2 L1089.3 1191.3 L1091.3 1189.1 L1093.3 1189.1 L1095.3 1189.1 L1097.3 1187.9 L1099.3 1187.6 L1101.3 1188.3 L1103.3 1186.5 L1105.3 1186.1 L1107.3 1187.4 L1109.3 1186.3 L1111.3 1186.2 L1113.3 1186.0 L1115.3 1186.4 L1117.3 1185.9 L1119.3 1186.1 L1121.3 1185.2 L1123.3 1184.4 L1125.3 1185.1 L1127.3 1183.9 L1129.3 1184.7 L1131.3 1184.6 L1133.3 1184.0 L1135.3 1185.4 L1137.3 1183.9 L1139.3 1184.6 L1141.3 1184.5 L1143.3 1182.5 L1145.3 1181.7 L1147.3 1180.9 L1149.3 1182.0 L1151.3 1181.2 L1153.3 1181.6 L1155.3 1182.2 L1157.3 1183.0 L1159.3 1181.4 L1161.3 1183.0 L1163.3 1186.4 L1165.3 1190.1 L1167.3 1194.3 L1169.3 1198.8 L1171.3 1200.3 L1173.3 1200.8 L1175.3 1201.8 L1177.3 1201.9 L1179.3 1195.7 L1181.3 1189.6 L1183.3 1190.6 L1185.3 1195.2 L1187.3 1198.4 L1189.3 1199.4 L1191.3 1197.8 L1193.3 1193.9 L1195.3 1191.5 L1197.3 1191.5 L1199.3 1193.1 L1201.3 1193.2 L1203.3 1194.2 L1205.3 1196.6 L1207.3 1199.6 L1209.3 1201.1 L1211.3 1203.1 L1213.3 1203.3 L1215.3 1200.7 L1217.3 1200.4 L1219.3 1197.0 L1221.3 1194.9 L1223.3 1192.0 L1225.3 1190.7 L1227.3 1187.5 L1229.3 1186.8 L1231.3 1185.5 L1233.3 1186.3 L1235.3 1185.2 L1237.3 1184.1 L1239.3 1185.3 L1241.3 1185.4 L1243.3 1185.4 L1245.3 1184.7 L1247.3 1185.9 L1249.3 1184.9 L1251.3 1185.6 L1253.3 1184.8 L1255.3 1185.4 L1257.3 1184.8 L1259.3 1185.2 L1261.3 1185.0 L1263.3 1185.0 L1265.3 1185.1 L1267.3 1184.2 L1269.3 1184.4 L1271.3 1184.4 L1273.3 1184.3 L1275.3 1185.2 L1277.3 1184.6 L1279.3 1184.7 L1281.3 1184.3 L1283.3 1185.0 L1285.3 1184.8 L1287.3 1184.6 L1289.3 1185.9 L1291.3 1184.8 L1293.3 1186.1 L1295.3 1188.5 L1297.3 1187.8 L1299.3 1189.4 L1301.3 1189.1 L1303.3 1188.6 L1305.3 1188.0 L1307.3 1188.6 L1309.3 1189.2 L1311.3 1189.4 L1313.3 1188.9 L1315.3 1187.9 L1317.3 1187.9 L1319.3 1188.2 L1321.3 1189.4 L1323.3 1188.0 L1325.3 1189.4 L1327.3 1188.3 L1329.3 1189.5 L1331.3 1189.5 L1333.3 1188.8 L1335.3 1189.6 L1337.3 1188.4 L1339.3 1188.6 L1341.3 1188.7 L1343.3 1190.1 L1345.3 1191.6 L1347.3 1191.1 L1349.3 1191.1 L1351.3 1191.2 L1353.3 1192.0 L1355.3 1191.6 L1357.3 1193.2 L1359.3 1193.0 L1361.3 1192.2 L1363.3 1191.8 L1365.3 1192.2 L1367.3 1192.8 L1369.3 1193.3 L1371.3 1192.3 L1373.3 1193.0 L1375.3 1193.5 L1377.3 1194.7 L1379.3 1194.7 L1381.3 1193.9 L1383.3 1193.4 L1385.3 1194.5 L1387.3 1195.6 L1389.3 1194.2 L1391.3 1194.8 L1393.3 1195.5 L1395.3 1194.9 L1397.3 1196.7 L1399.3 1195.5 L1401.3 1196.0 L1403.3 1197.2 L1405.3 1198.1 L1407.3 1198.1 L1409.3 1198.2 L1411.3 1199.1 L1413.3 1199.7 L1415.3 1200.2 L1417.3 1200.7 L1419.3 1201.1 L1421.3 1201.3 L1423.3 1201.0 L1425.3 1201.8 L1427.3 1202.0 L1429.3 1202.5 L1431.3 1203.1 L1433.3 1203.3 L1435.3 1203.7 L1437.3 1204.6 L1439.3 1203.8 L1441.3 1205.2 L1443.3 1204.9 L1445.3 1205.0 L1447.3 1206.6 L1449.3 1205.7 L1451.3 1205.9 L1453.3 1206.6 L1455.3 1206.9 L1457.3 1207.2 L1459.3 1208.5 L1461.3 1209.1 L1463.3 1208.8 L1465.3 1208.5 L1467.3 1209.8 L1469.3 1209.1 L1471.3 1210.1 L1473.3 1210.6 L1475.3 1210.9 L1477.3 1210.9 L1479.3 1212.5 L1481.3 1213.2 L1483.3 1212.7 L1485.3 1212.4 L1487.3 1214.4 L1489.3 1213.9 L1491.3 1214.0 L1493.3 1214.9 L1495.3 1215.5 L1497.3 1216.1 L1499.3 1216.2 L1501.3 1216.3 L1503.3 1217.0 L1505.3 1218.9 L1507.3 1219.6 L1509.3 1219.0 L1511.3 1220.1 L1513.3 1221.0 L1515.3 1220.8 L1517.3 1221.5 L1519.3 1222.2 L1521.3 1222.7 L1523.3 1223.0 L1525.3 1223.7 L1527.3 1224.7 L1529.3 1226.4 L1531.3 1226.1 L1533.3 1227.3 L1535.3 1230.3 L1537.3 1232.5 L1539.3 1235.4 L1541.3 1239.0 L1543.3 1246.1 L1545.3 1256.4 L1547.3 1271.2 L1549.3 1292.0 L1551.3 1317.8 L1553.3 1344.1 L1555.3 1366.7 L1557.3 1384.4 L1559.3 1393.1 L1561.3 1396.7 L1563.3 1398.6 L1565.3 1399.6 L1567.3 1398.8 L1569.3 1395.9 L1571.3 1393.6 L1573.3 1389.6 L1575.3 1384.4 L1577.3 1373.1 L1579.3 1355.1 L1581.3 1336.3 L1583.3 1317.4 L1585.3 1304.0 L1587.3 1293.8 L1589.3 1287.6 L1591.3 1283.0 L1593.3 1281.0 L1595.3 1278.1 L1597.3 1279.2 L1599.3 1277.2 L1601.3 1277.7 L1603.3 1275.3 L1605.3 1277.7 L1607.3 1273.0 L1609.3 1274.0 L1611.3 1268.5 L1613.3 1269.3 L1615.3 1262.5 L1617.3 1265.3 L1619.3 1258.8 L1621.3 1260.1 L1623.3 1253.3 L1625.3 1253.5 L1627.3 1248.1 L1629.3 1247.2 L1631.3 1243.5 L1633.3 1243.7 L1635.3 1244.5 L1637.3 1243.5 L1639.3 1243.8 L1641.3 1245.5 L1643.3 1247.0 L1645.3 1248.1 L1647.3 1250.2 L1649.3 1251.9 L1651.3 1255.0 L1653.3 1258.5 L1655.3 1258.4 L1657.3 1263.7 L1659.3 1259.3 L1661.3 1264.7 L1663.3 1259.3 L1665.3 1262.1 L1667.3 1257.6 L1669.3 1261.1 L1671.3 1261.0 L1673.3 1264.5 L1675.3 1260.7 L1677.3 1266.6 L1679.3 1260.2 L1681.3 1262.4 L1683.3 1257.9 L1685.3 1261.6 L1687.3 1256.9 L1689.3 1266.1 L1691.3 1261.5 L1693.3 1266.8 L1695.3 1267.4 L1697.3 1271.3 L1699.3 1268.9 L1701.3 1273.7 L1703.3 1271.6 L1705.3 1278.0 L1707.3 1285.4 L1709.3 1292.8 L1711.3 1300.1 L1713.3 1310.2 L1715.3 1318.3 L1717.3 1329.0 L1719.3 1337.0 L1721.3 1343.1 L1723.3 1350.2 L1725.3 1356.9 L1727.3 1362.6 L1729.3 1369.4 L1731.3 1375.7 L1733.3 1379.5 L1735.3 1382.9 L1737.3 1387.8 L1739.3 1389.6 L1741.3 1391.9 L1743.3 1392.8 L1745.3 1392.0 L1747.3 1391.2 L1749.3 1392.5 L1751.3 1391.9 L1753.3 1388.1 L1755.3 1384.6 L1757.3 1378.9 L1759.3 1373.7 L1761.3 1366.4 L1763.3 1361.2 L1765.3 1357.0 L1767.3 1355.1 L1769.3 1354.8 L1771.3 1361.3 L1773.3 1372.6 L1775.3 1390.4 L1777.3 1393.3 L1779.3 1393.4 L1781.3 1394.0 L1783.3 1389.5 L1785.3 1375.4 L1787.3 1367.7 L1789.3 1361.7 L1791.3 1358.2 L1793.3 1357.2 L1795.3 1357.6 L1797.3 1356.4 L1799.3 1357.2 L1801.3 1359.9 L1803.3 1362.3 L1805.3 1362.6 L1807.3 1362.6 L1809.3 1362.8 L1811.3 1362.8 L1813.3 1361.8 L1815.3 1361.3 L1817.3 1359.8 L1819.3 1358.5 L1821.3 1356.6 L1823.3 1357.6 L1825.3 1356.4 L1827.3 1358.1 L1829.3 1359.5 L1831.3 1364.0 L1833.3 1371.7 L1835.3 1382.1 L1837.3 1393.5 L1839.3 1402.6 L1841.3 1408.7 L1843.3 1414.8 L1845.3 1418.0 L1847.3 1419.7 L1849.3 1422.0 L1851.3 1422.1 L1853.3 1422.6 L1855.3 1420.9 L1857.3 1420.4 L1859.3 1417.8 L1861.3 1414.2 L1863.3 1407.9 L1865.3 1398.0 L1867.3 1387.6 L1869.3 1371.5 L1871.3 1356.7 L1873.3 1343.2 L1875.3 1333.4 L1877.3 1325.7 L1879.3 1320.5 L1881.3 1314.3 L1883.3 1311.6 L1885.3 1307.6 L1887.3 1305.3 L1889.3 1302.2 L1891.3 1299.8 L1893.3 1298.0 L1895.3 1297.0 L1897.3 1294.6 L1899.3 1293.0 L1901.3 1291.5 L1903.3 1289.2 L1905.3 1288.0 L1907.3 1289.2 L1909.3 1290.3 L1911.3 1293.1 L1913.3 1297.4 L1915.3 1322.0 L1917.3 1357.3 L1919.3 1381.1 L1921.3 1383.9 L1923.3 1385.4 L1925.3 1388.7 L1927.3 1388.6 L1929.3 1391.5 L1931.3 1392.4 L1933.3 1394.8 L1935.3 1396.9 L1937.3 1400.3 L1939.3 1403.5 L1941.3 1409.9 L1943.3 1416.1 L1945.3 1419.6 L1947.3 1421.4 L1949.3 1422.9 L1951.3 1422.8 L1953.3 1420.3 L1955.3 1417.5 L1957.3 1414.2 L1959.3 1407.8 L1961.3 1402.6 L1963.3 1399.7 L1965.3 1396.0 L1967.3 1393.0 L1969.3 1389.8 L1971.3 1388.2 L1973.3 1385.5 L1975.3 1383.3 L1977.3 1380.3 L1979.3 1379.5 L1981.3 1377.7 L1983.3 1377.2 L1985.3 1376.5 L1987.3 1374.1 L1989.3 1372.7 L1991.3 1371.6 L1993.3 1366.2 L1995.3 1351.6 L1997.3 1334.2 L1999.3 1320.1 L2001.3 1306.8 L2003.3 1295.2 L2005.3 1287.1 L2007.3 1277.4 L2009.3 1272.1 L2011.3 1266.7 L2013.3 1263.8 L2015.3 1262.7 L2017.3 1259.9 L2019.3 1259.2 L2021.3 1259.2 L2023.3 1258.2 L2025.3 1260.3 L2027.3 1262.8 L2029.3 1265.9 L2031.3 1271.0 L2033.3 1278.8 L2035.3 1284.1 L2037.3 1286.3 L2039.3 1289.6 L2041.3 1290.4 L2043.3 1291.2 L2045.3 1291.0 L2047.3 1291.8 L2049.3 1291.6 L2051.3 1292.4 L2053.3 1292.6 L2055.3 1290.9 L2057.3 1291.6 L2059.3 1290.6 L2061.3 1288.8 L2063.3 1288.0 L2065.3 1286.2 L2067.3 1282.2 L2069.3 1281.7 L2071.3 1279.9 L2073.3 1278.0 L2075.3 1277.3 L2077.3 1277.0 L2079.3 1276.5 L2081.3 1276.4 L2083.3 1279.4 L2085.3 1285.8 L2087.3 1300.7 L2089.3 1316.9 L2091.3 1332.9 L2093.3 1338.4 L2095.3 1342.3 L2097.3 1343.0 L2099.3 1342.7 L2101.3 1342.6 L2103.3 1341.6 L2105.3 1339.1 L2107.3 1337.1 L2109.3 1332.8 L2111.3 1329.4 L2113.3 1323.7 L2115.3 1318.0 L2117.3 1313.1 L2119.3 1307.2 L2121.3 1303.1 L2123.3 1296.7 L2125.3 1293.4 L2127.3 1292.2 L2129.3 1288.1 L2131.3 1288.3 L2133.3 1287.0 L2135.3 1286.2 L2137.3 1284.8 L2139.3 1285.0 L2141.3 1286.1 L2143.3 1285.4 L2145.3 1286.4 L2147.3 1287.6 L2149.3 1290.1 L2151.3 1290.7 L2153.3 1291.8 L2155.3 1292.5 L2157.3 1292.8 L2159.3 1293.7 L2161.3 1295.6 L2163.3 1296.7 L2165.3 1297.6 L2167.3 1298.6 L2169.3 1300.1 L2171.3 1299.7 L2173.3 1301.2 L2175.3 1301.9 L2177.3 1303.2 L2179.3 1304.6 L2181.3 1304.5 L2183.3 1306.8 L2185.3 1308.4 L2187.3 1309.1 L2189.3 1309.6 L2191.3 1310.1 L2193.3 1311.0 L2195.3 1310.7 L2197.3 1311.4 L2199.3 1311.1 L2201.3 1311.9 L2203.3 1309.3 L2205.3 1310.9 L2207.3 1307.3 L2209.3 1312.2 L2211.3 1305.4 L2213.3 1311.9 L2215.3 1309.6 L2217.3 1312.5 L2219.3 1309.1 L2221.3 1309.6 L2223.3 1308.0 L2225.3 1306.4 L2227.3 1304.8 L2229.3 1304.7 L2231.3 1302.0 L2233.3 1301.6 L2235.3 1297.0 L2237.3 1300.5 L2239.3 1297.0 L2241.3 1299.1 L2243.3 1294.9 L2245.3 1298.4 L2247.3 1293.6 L2249.3 1290.9 L2251.3 1285.9 L2253.3 1281.7 L2255.3 1277.1 L2257.3 1271.6 L2259.3 1267.9 L2261.3 1265.2 L2263.3 1262.2 L2265.3 1259.5 L2267.3 1256.2 L2269.3 1255.6 L2271.3 1254.0 L2273.3 1252.5 L2275.0 1248.9 L2276.9 1249.6 L2278.8 1245.9 L2280.7 1247.1 L2282.6 1241.4 L2284.5 1242.3 L2286.9 1240.9 L2289.2 1246.5 L2291.6 1244.2 L2292.2 1249.5 L2292.8 1249.7 L2293.4 1256.1 L2294.0 1255.0 L2294.5 1255.9 L2295.0 1248.6 L2295.5 1249.9 L2296.0 1243.7 L2296.5 1244.8 L2297.0 1238.4 L2297.4 1244.8 L2297.9 1244.3 L2298.3 1249.9 L2298.7 1249.0 L2299.1 1255.1 L2299.6 1253.9 L2300.0 1259.6 L2301.8 1254.5 L2303.5 1256.0 L2303.8 1250.4 L2304.2 1250.4 L2304.5 1245.2 L2304.9 1245.1 L2305.2 1240.4 L2305.6 1239.7 L2305.9 1234.9 L2308.2 1237.4 L2310.6 1231.8 L2311.5 1238.8 L2312.4 1238.5 L2313.3 1245.1 L2314.2 1244.8 L2317.8 1248.6 L2321.3 1245.7 L2322.3 1245.5 L2323.3 1241.1 L2324.3 1241.9 L2325.3 1236.4 L2326.3 1237.1 L2327.3 1231.0 L2328.5 1231.3 L2329.7 1226.7 L2330.8 1227.5 L2332.0 1221.0 L2333.2 1221.9 L2334.7 1216.5 L2336.1 1217.7 L2337.6 1211.9 L2339.1 1212.7 L2340.6 1205.6 L2342.1 1206.5 L2343.6 1200.9 L2345.1 1202.0 L2346.3 1201.1 L2347.4 1207.8 L2348.6 1207.1 L2349.8 1211.4 L2350.4 1211.3 L2351.0 1217.3 L2351.6 1216.1 L2352.2 1223.2 L2352.8 1223.3 L2353.4 1228.4 L2355.0 1228.0 L2356.5 1232.8 L2358.1 1232.1 L2358.5 1233.8 L2358.9 1226.8 L2359.3 1228.3 L2359.7 1221.5 L2360.1 1222.4 L2360.5 1216.2 L2360.9 1217.7 L2361.3 1210.7 L2361.7 1211.7 L2361.8 1206.2 L2362.0 1206.4 L2362.1 1200.9 L2362.3 1201.4 L2362.4 1196.1 L2362.5 1196.1 L2362.7 1189.3 L2362.8 1189.9 L2362.9 1184.2 L2363.1 1184.9 L2363.2 1180.2 L2363.4 1180.8 L2363.5 1173.4 L2365.6 1173.8 L2367.6 1168.3 L2368.2 1175.3 L2368.8 1174.1 L2369.4 1180.7 L2370.0 1181.8" fill="none" stroke="#0000ff" stroke-width="10.8" stroke-linejoin="round" stroke-linecap="butt"/>
<path d="M187.3 808.5 L189.3 807.9 L191.3 808.0 L193.3 809.4 L195.3 807.4 L197.3 807.6 L199.3 808.0 L201.3 807.7 L203.3 805.9 L205.3 807.0 L207.3 805.5 L209.3 805.5 L211.3 803.4 L213.3 806.7 L215.3 807.3 L217.3 810.3 L219.3 808.7 L221.3 814.0 L223.3 809.1 L225.3 814.0 L227.3 807.8 L229.3 814.6 L231.3 812.3 L233.3 813.8 L235.3 813.8 L237.3 818.7 L239.3 816.0 L241.3 823.9 L243.3 818.9 L245.3 827.3 L247.3 822.9 L249.3 826.1 L251.3 822.6 L253.3 831.3 L255.3 825.6 L257.3 834.1 L259.3 824.4 L261.3 835.3 L263.3 827.1 L265.3 835.2 L267.3 827.6 L269.3 836.9 L271.3 834.2 L273.3 841.8 L275.3 832.7 L277.3 838.2 L279.3 830.1 L281.3 842.3 L283.3 824.7 L285.3 839.4 L287.3 826.9 L289.3 837.4 L291.3 826.6 L293.3 836.4 L295.3 820.9 L297.3 835.0 L299.3 823.7 L301.3 833.8 L303.3 824.5 L305.3 829.8 L307.3 812.6 L309.3 832.6 L311.3 812.6 L313.3 812.6 L315.3 802.3 L317.3 807.2 L319.3 802.8 L321.3 807.1 L323.3 805.7 L325.3 811.3 L327.3 811.7 L329.3 821.2 L331.3 826.0 L333.3 838.2 L335.3 844.2 L337.3 856.8 L339.3 856.1 L341.3 863.5 L343.3 864.1 L345.3 867.4 L347.3 863.8 L349.3 863.7 L351.3 859.3 L353.3 858.9 L355.3 847.0 L357.3 847.0 L359.3 835.2 L361.3 835.6 L363.3 831.9 L365.3 833.7 L367.3 831.3 L369.3 833.6 L371.3 830.3 L373.3 839.4 L375.3 834.2 L377.3 845.3 L379.3 836.6 L381.3 849.8 L383.3 835.9 L385.3 855.8 L387.3 837.5 L389.3 845.8 L391.3 817.8 L393.3 852.6 L395.3 829.0 L397.3 843.6 L399.3 835.8 L401.3 844.6 L403.3 838.7 L405.3 856.5 L407.3 840.1 L409.3 857.6 L411.3 842.7 L413.3 861.7 L415.3 846.8 L417.3 861.5 L419.3 853.3 L421.3 861.4 L423.3 856.8 L425.3 862.9 L427.3 856.8 L429.3 863.6 L431.3 859.3 L433.3 863.6 L435.3 861.0 L437.3 865.5 L439.3 859.9 L441.3 866.0 L443.3 860.3 L445.3 869.3 L447.3 866.2 L449.3 874.5 L451.3 867.0 L453.3 880.2 L455.3 872.5 L457.3 881.0 L459.3 878.3 L461.3 886.8 L463.3 881.1 L465.3 891.7 L467.3 890.7 L469.3 899.1 L471.3 897.3 L473.3 904.9 L475.3 906.9 L477.3 911.7 L479.3 915.0 L481.3 920.4 L483.3 921.6 L485.3 927.5 L487.3 929.9 L489.3 933.8 L491.3 935.8 L493.3 939.7 L495.3 941.8 L497.3 947.0 L499.3 951.1 L501.3 955.3 L503.3 957.3 L505.3 962.7 L507.3 963.5 L509.3 968.6 L511.3 969.4 L513.3 973.9 L515.3 975.5 L517.3 979.9 L519.3 981.6 L521.3 984.5 L523.3 988.1 L525.3 991.5 L527.3 992.7 L529.3 996.6 L531.3 999.2 L533.3 1002.3 L535.3 1002.8 L537.3 1006.4 L539.3 1008.9 L541.3 1011.7 L543.3 1012.6 L545.3 1015.8 L547.3 1017.3 L549.3 1020.3 L551.3 1021.3 L553.3 1024.2 L555.3 1024.7 L557.3 1027.0 L559.3 1026.5 L561.3 1030.1 L563.3 1029.8 L565.3 1032.2 L567.3 1032.5 L569.3 1033.5 L571.3 1033.8 L573.3 1036.2 L575.3 1036.4 L577.3 1035.7 L579.3 1037.4 L581.3 1038.1 L583.3 1037.2 L585.3 1037.6 L587.3 1036.5 L589.3 1037.9 L591.3 1037.9 L593.3 1037.7 L595.3 1037.7 L597.3 1038.9 L599.3 1037.4 L601.3 1038.6 L603.3 1037.3 L605.3 1037.4 L607.3 1037.0 L609.3 1037.2 L611.3 1036.5 L613.3 1037.4 L615.3 1035.0 L617.3 1035.9 L619.3 1034.0 L621.3 1032.8 L623.3 1030.7 L625.3 1031.6 L627.3 1030.1 L629.3 1029.9 L631.3 1027.8 L633.3 1027.6 L635.3 1024.4 L637.3 1025.0 L639.3 1022.5 L641.3 1021.2 L643.3 1018.4 L645.3 1019.0 L647.3 1015.9 L649.3 1015.2 L651.3 1010.9 L653.3 1010.1 L655.3 1007.6 L657.3 1006.8 L659.3 1002.5 L661.3 1001.7 L663.3 999.0 L665.3 998.3 L667.3 994.3 L669.3 992.1 L671.3 988.4 L673.3 986.9 L675.3 985.0 L677.3 982.8 L679.3 980.1 L681.3 976.7 L683.3 974.4 L685.3 972.2 L687.3 967.7 L689.3 967.5 L691.3 962.7 L693.3 960.4 L695.3 956.7 L697.3 955.1 L699.3 951.7 L701.3 948.0 L703.3 945.4 L705.3 942.6 L707.3 938.4 L709.3 936.9 L711.3 933.7 L713.3 931.5 L715.3 926.6 L717.3 925.1 L719.3 921.7 L721.3 919.9 L723.3 916.1 L725.3 913.1 L727.3 909.7 L729.3 909.7 L731.3 906.8 L733.3 903.7 L735.3 901.4 L737.3 899.3 L739.3 896.5 L741.3 895.4 L743.3 893.8 L745.3 891.7 L747.3 890.3 L749.3 888.1 L751.3 886.7 L753.3 884.5 L755.3 882.5 L757.3 883.1 L759.3 881.2 L761.3 878.7 L763.3 877.8 L765.3 877.4 L767.3 874.8 L769.3 875.4 L771.3 872.7 L773.3 873.2 L775.3 872.7 L777.3 873.3 L779.3 872.4 L781.3 871.4 L783.3 871.3 L785.3 872.6 L787.3 870.2 L789.3 872.1 L791.3 871.5 L793.3 873.0 L795.3 873.1 L797.3 873.2 L799.3 874.9 L801.3 879.4 L803.3 882.1 L805.3 884.9 L807.3 889.0 L809.3 894.3 L811.3 900.4 L813.3 909.7 L815.3 918.6 L817.3 931.6 L819.3 947.2 L821.3 960.7 L823.3 975.1 L825.3 984.3 L827.3 989.3 L829.3 990.9 L831.3 990.8 L833.3 985.9 L835.3 980.9 L837.3 977.3 L839.3 973.5 L841.3 973.8 L843.3 975.0 L845.3 976.2 L847.3 976.8 L849.3 975.3 L851.3 974.0 L853.3 972.6 L855.3 961.5 L857.3 950.5 L859.3 937.5 L861.3 927.7 L863.3 920.8 L865.3 916.2 L867.3 914.5 L869.3 912.1 L871.3 909.9 L873.3 909.2 L875.3 906.7 L877.3 904.6 L879.3 902.0 L881.3 900.2 L883.3 900.2 L885.3 898.4 L887.3 898.7 L889.3 896.8 L891.3 896.1 L893.3 895.4 L895.3 893.5 L897.3 892.0 L899.3 888.9 L901.3 887.3 L903.3 884.6 L905.3 881.8 L907.3 878.5 L909.3 876.1 L911.3 872.6 L913.3 870.6 L915.3 869.9 L917.3 867.0 L919.3 865.3 L921.3 865.7 L923.3 864.3 L925.3 863.1 L927.3 864.0 L929.3 862.3 L931.3 862.4 L933.3 862.3 L935.3 862.8 L937.3 862.5 L939.3 861.4 L941.3 862.5 L943.3 860.9 L945.3 860.2 L947.3 860.0 L949.3 860.3 L951.3 858.5 L953.3 859.8 L955.3 858.5 L957.3 859.2 L959.3 857.4 L961.3 857.9 L963.3 857.6 L965.3 858.4 L967.3 857.6 L969.3 856.1 L971.3 857.1 L973.3 857.1 L975.3 856.6 L977.3 857.2 L979.3 856.0 L981.3 856.3 L983.3 855.2 L985.3 854.8 L987.3 854.6 L989.3 854.3 L991.3 855.5 L993.3 853.9 L995.3 854.4 L997.3 853.4 L999.3 853.1 L1001.3 853.4 L1003.3 853.0 L1005.3 852.0 L1007.3 852.5 L1009.3 850.2 L1011.3 851.1 L1013.3 850.1 L1015.3 850.2 L1017.3 848.9 L1019.3 848.2 L1021.3 847.9 L1023.3 846.6 L1025.3 847.4 L1027.3 846.3 L1029.3 846.3 L1031.3 844.9 L1033.3 844.8 L1035.3 844.1 L1037.3 843.5 L1039.3 842.8 L1041.3 843.6 L1043.3 842.5 L1045.3 842.9 L1047.3 842.5 L1049.3 842.3 L1051.3 841.6 L1053.3 842.8 L1055.3 841.5 L1057.3 841.5 L1059.3 841.4 L1061.3 841.5 L1063.3 841.5 L1065.3 841.1 L1067.3 842.6 L1069.3 841.8 L1071.3 841.1 L1073.3 842.5 L1075.3 842.1 L1077.3 840.8 L1079.3 841.3 L1081.3 840.7 L1083.3 841.7 L1085.3 842.6 L1087.3 842.6 L1089.3 842.4 L1091.3 841.6 L1093.3 841.0 L1095.3 841.6 L1097.3 840.0 L1099.3 839.7 L1101.3 839.3 L1103.3 838.5 L1105.3 838.1 L1107.3 838.3 L1109.3 837.8 L1111.3 837.5 L1113.3 837.6 L1115.3 837.9 L1117.3 836.3 L1119.3 836.0 L1121.3 836.1 L1123.3 836.4 L1125.3 836.7 L1127.3 835.8 L1129.3 836.2 L1131.3 835.7 L1133.3 834.8 L1135.3 835.6 L1137.3 836.2 L1139.3 835.0 L1141.3 835.1 L1143.3 835.4 L1145.3 834.9 L1147.3 833.4 L1149.3 832.8 L1151.3 832.9 L1153.3 833.4 L1155.3 831.7 L1157.3 832.1 L1159.3 831.3 L1161.3 830.4 L1163.3 830.4 L1165.3 829.2 L1167.3 826.3 L1169.3 820.9 L1171.3 819.2 L1173.3 819.1 L1175.3 825.7 L1177.3 840.1 L1179.3 856.1 L1181.3 856.8 L1183.3 852.4 L1185.3 846.2 L1187.3 839.7 L1189.3 836.7 L1191.3 836.3 L1193.3 836.3 L1195.3 835.0 L1197.3 831.5 L1199.3 826.3 L1201.3 821.1 L1203.3 819.0 L1205.3 816.2 L1207.3 817.5 L1209.3 819.9 L1211.3 824.6 L1213.3 828.9 L1215.3 833.7 L1217.3 835.7 L1219.3 837.6 L1221.3 834.9 L1223.3 835.3 L1225.3 833.5 L1227.3 831.9 L1229.3 829.5 L1231.3 828.5 L1233.3 828.3 L1235.3 828.1 L1237.3 825.6 L1239.3 826.1 L1241.3 825.2 L1243.3 823.4 L1245.3 823.6 L1247.3 824.0 L1249.3 823.3 L1251.3 821.9 L1253.3 821.9 L1255.3 822.1 L1257.3 822.0 L1259.3 822.2 L1261.3 820.9 L1263.3 821.8 L1265.3 822.2 L1267.3 821.2 L1269.3 821.2 L1271.3 822.3 L1273.3 822.7 L1275.3 822.0 L1277.3 823.7 L1279.3 823.6 L1281.3 825.2 L1283.3 825.8 L1285.3 826.0 L1287.3 825.7 L1289.3 825.1 L1291.3 824.3 L1293.3 824.5 L1295.3 825.9 L1297.3 824.3 L1299.3 825.1 L1301.3 825.3 L1303.3 825.6 L1305.3 824.1 L1307.3 824.5 L1309.3 824.2 L1311.3 824.4 L1313.3 825.0 L1315.3 825.6 L1317.3 826.0 L1319.3 824.0 L1321.3 824.3 L1323.3 823.4 L1325.3 821.7 L1327.3 822.6 L1329.3 822.5 L1331.3 821.2 L1333.3 822.7 L1335.3 822.1 L1337.3 822.3 L1339.3 823.0 L1341.3 823.4 L1343.3 824.3 L1345.3 824.6 L1347.3 824.5 L1349.3 824.8 L1351.3 824.4 L1353.3 825.4 L1355.3 824.8 L1357.3 825.4 L1359.3 825.3 L1361.3 825.1 L1363.3 826.2 L1365.3 825.4 L1367.3 826.2 L1369.3 827.1 L1371.3 825.8 L1373.3 827.3 L1375.3 826.0 L1377.3 826.7 L1379.3 826.2 L1381.3 827.1 L1383.3 827.2 L1385.3 828.1 L1387.3 827.9 L1389.3 827.1 L1391.3 827.5 L1393.3 827.0 L1395.3 828.6 L1397.3 827.0 L1399.3 827.6 L1401.3 828.9 L1403.3 828.4 L1405.3 828.8 L1407.3 829.5 L1409.3 830.6 L1411.3 831.3 L1413.3 833.7 L1415.3 834.8 L1417.3 834.7 L1419.3 835.5 L1421.3 837.2 L1423.3 838.0 L1425.3 836.9 L1427.3 838.3 L1429.3 839.0 L1431.3 840.0 L1433.3 839.4 L1435.3 840.6 L1437.3 842.1 L1439.3 842.6 L1441.3 843.0 L1443.3 843.5 L1445.3 843.0 L1447.3 844.1 L1449.3 845.8 L1451.3 845.2 L1453.3 846.1 L1455.3 846.4 L1457.3 847.9 L1459.3 848.2 L1461.3 848.3 L1463.3 848.5 L1465.3 849.8 L1467.3 850.9 L1469.3 851.1 L1471.3 851.0 L1473.3 851.0 L1475.3 851.6 L1477.3 851.4 L1479.3 851.9 L1481.3 853.9 L1483.3 854.0 L1485.3 853.4 L1487.3 854.6 L1489.3 854.4 L1491.3 854.6 L1493.3 856.3 L1495.3 857.3 L1497.3 857.6 L1499.3 858.5 L1501.3 858.7 L1503.3 859.5 L1505.3 859.3 L1507.3 861.7 L1509.3 862.6 L1511.3 862.1 L1513.3 863.8 L1515.3 864.8 L1517.3 865.0 L1519.3 866.4 L1521.3 866.6 L1523.3 868.9 L1525.3 870.0 L1527.3 871.7 L1529.3 872.1 L1531.3 875.0 L1533.3 876.6 L1535.3 880.1 L1537.3 882.3 L1539.3 885.7 L1541.3 890.9 L1543.3 896.7 L1545.3 904.4 L1547.3 916.3 L1549.3 930.8 L1551.3 951.2 L1553.3 978.7 L1555.3 1006.7 L1557.3 1033.4 L1559.3 1056.6 L1561.3 1075.6 L1563.3 1093.7 L1565.3 1104.4 L1567.3 1111.1 L1569.3 1115.0 L1571.3 1117.3 L1573.3 1118.9 L1575.3 1120.4 L1577.3 1117.4 L1579.3 1110.0 L1581.3 1098.9 L1583.3 1078.7 L1585.3 1053.8 L1587.3 1030.7 L1589.3 1007.5 L1591.3 987.4 L1593.3 971.5 L1595.3 964.7 L1597.3 961.5 L1599.3 959.6 L1601.3 956.6 L1603.3 955.7 L1605.3 953.6 L1607.3 950.6 L1609.3 949.3 L1611.3 945.0 L1613.3 941.6 L1615.3 936.1 L1617.3 930.9 L1619.3 926.1 L1621.3 921.2 L1623.3 917.3 L1625.3 911.9 L1627.3 906.3 L1629.3 904.7 L1631.3 901.4 L1633.3 900.2 L1635.3 899.4 L1637.3 900.4 L1639.3 901.0 L1641.3 901.6 L1643.3 903.3 L1645.3 906.8 L1647.3 910.3 L1649.3 913.9 L1651.3 917.4 L1653.3 923.9 L1655.3 928.0 L1657.3 930.0 L1659.3 932.2 L1661.3 934.4 L1663.3 933.3 L1665.3 932.9 L1667.3 931.3 L1669.3 931.5 L1671.3 930.8 L1673.3 932.8 L1675.3 932.4 L1677.3 931.7 L1679.3 933.4 L1681.3 934.0 L1683.3 933.6 L1685.3 936.0 L1687.3 939.2 L1689.3 942.5 L1691.3 946.0 L1693.3 949.0 L1695.3 952.1 L1697.3 956.1 L1699.3 959.5 L1701.3 964.6 L1703.3 970.1 L1705.3 977.3 L1707.3 989.4 L1709.3 1002.1 L1711.3 1012.9 L1713.3 1025.9 L1715.3 1037.4 L1717.3 1049.5 L1719.3 1060.9 L1721.3 1070.7 L1723.3 1079.5 L1725.3 1088.2 L1727.3 1095.6 L1729.3 1102.8 L1731.3 1109.0 L1733.3 1112.1 L1735.3 1116.0 L1737.3 1117.9 L1739.3 1118.3 L1741.3 1119.7 L1743.3 1118.9 L1745.3 1119.1 L1747.3 1118.7 L1749.3 1117.9 L1751.3 1114.1 L1753.3 1111.1 L1755.3 1104.9 L1757.3 1099.1 L1759.3 1092.5 L1761.3 1087.7 L1763.3 1086.3 L1765.3 1084.2 L1767.3 1082.8 L1769.3 1088.0 L1771.3 1095.3 L1773.3 1104.2 L1775.3 1114.1 L1777.3 1113.3 L1779.3 1114.0 L1781.3 1110.8 L1783.3 1101.4 L1785.3 1093.1 L1787.3 1089.7 L1789.3 1087.2 L1791.3 1085.4 L1793.3 1086.0 L1795.3 1086.8 L1797.3 1088.3 L1799.3 1091.7 L1801.3 1093.8 L1803.3 1096.5 L1805.3 1097.0 L1807.3 1097.0 L1809.3 1096.8 L1811.3 1095.7 L1813.3 1096.2 L1815.3 1094.0 L1817.3 1089.2 L1819.3 1087.2 L1821.3 1086.7 L1823.3 1087.5 L1825.3 1088.1 L1827.3 1089.8 L1829.3 1091.5 L1831.3 1098.7 L1833.3 1105.7 L1835.3 1116.1 L1837.3 1124.8 L1839.3 1130.5 L1841.3 1136.1 L1843.3 1138.6 L1845.3 1138.6 L1847.3 1139.3 L1849.3 1139.6 L1851.3 1140.6 L1853.3 1138.0 L1855.3 1135.2 L1857.3 1133.4 L1859.3 1129.5 L1861.3 1122.2 L1863.3 1115.8 L1865.3 1107.0 L1867.3 1095.2 L1869.3 1083.7 L1871.3 1069.7 L1873.3 1055.7 L1875.3 1043.8 L1877.3 1034.4 L1879.3 1027.4 L1881.3 1021.4 L1883.3 1017.8 L1885.3 1013.7 L1887.3 1009.2 L1889.3 1007.4 L1891.3 1003.4 L1893.3 1000.8 L1895.3 998.6 L1897.3 997.0 L1899.3 995.7 L1901.3 993.7 L1903.3 992.7 L1905.3 991.3 L1907.3 992.3 L1909.3 993.7 L1911.3 1000.8 L1913.3 1012.2 L1915.3 1032.3 L1917.3 1064.5 L1919.3 1093.2 L1921.3 1105.8 L1923.3 1111.6 L1925.3 1111.0 L1927.3 1111.5 L1929.3 1111.6 L1931.3 1110.3 L1933.3 1109.9 L1935.3 1112.9 L1937.3 1117.7 L1939.3 1121.4 L1941.3 1127.1 L1943.3 1131.2 L1945.3 1132.3 L1947.3 1134.0 L1949.3 1134.7 L1951.3 1135.9 L1953.3 1133.8 L1955.3 1130.9 L1957.3 1128.1 L1959.3 1123.9 L1961.3 1120.9 L1963.3 1115.3 L1965.3 1113.2 L1967.3 1110.4 L1969.3 1107.9 L1971.3 1103.6 L1973.3 1101.6 L1975.3 1100.7 L1977.3 1097.6 L1979.3 1095.8 L1981.3 1094.2 L1983.3 1093.8 L1985.3 1092.3 L1987.3 1090.4 L1989.3 1090.2 L1991.3 1089.0 L1993.3 1085.3 L1995.3 1074.6 L1997.3 1060.8 L1999.3 1041.0 L2001.3 1022.8 L2003.3 1008.7 L2005.3 993.5 L2007.3 981.4 L2009.3 971.0 L2011.3 963.7 L2013.3 957.8 L2015.3 954.9 L2017.3 952.6 L2019.3 949.1 L2021.3 948.5 L2023.3 946.3 L2025.3 947.5 L2027.3 952.2 L2029.3 957.8 L2031.3 964.0 L2033.3 970.5 L2035.3 977.2 L2037.3 979.8 L2039.3 983.3 L2041.3 984.7 L2043.3 986.6 L2045.3 987.0 L2047.3 986.1 L2049.3 986.8 L2051.3 985.0 L2053.3 984.5 L2055.3 984.4 L2057.3 984.1 L2059.3 982.8 L2061.3 981.1 L2063.3 978.9 L2065.3 976.3 L2067.3 974.1 L2069.3 970.7 L2071.3 967.0 L2073.3 964.1 L2075.3 962.1 L2077.3 959.4 L2079.3 959.5 L2081.3 959.7 L2083.3 965.1 L2085.3 975.6 L2087.3 995.3 L2089.3 1019.7 L2091.3 1041.3 L2093.3 1052.0 L2095.3 1058.6 L2097.3 1061.2 L2099.3 1062.4 L2101.3 1060.1 L2103.3 1059.5 L2105.3 1057.0 L2107.3 1052.2 L2109.3 1045.6 L2111.3 1039.3 L2113.3 1032.8 L2115.3 1022.9 L2117.3 1010.3 L2119.3 1000.9 L2121.3 993.2 L2123.3 983.8 L2125.3 978.4 L2127.3 974.7 L2129.3 972.6 L2131.3 970.0 L2133.3 969.2 L2135.3 969.2 L2137.3 968.1 L2139.3 968.7 L2141.3 969.5 L2143.3 970.0 L2145.3 971.5 L2147.3 974.2 L2149.3 976.2 L2151.3 977.1 L2153.3 979.5 L2155.3 981.9 L2157.3 984.0 L2159.3 986.3 L2161.3 987.4 L2163.3 989.4 L2165.3 990.0 L2167.3 992.6 L2169.3 993.6 L2171.3 996.6 L2173.3 997.7 L2175.3 999.2 L2177.3 1000.1 L2179.3 1000.9 L2181.3 1002.4 L2183.3 1005.3 L2185.3 1006.2 L2187.3 1009.0 L2189.3 1012.1 L2191.3 1014.3 L2193.3 1017.3 L2195.3 1019.2 L2197.3 1022.2 L2199.3 1021.2 L2201.3 1021.3 L2203.3 1021.2 L2205.3 1020.9 L2207.3 1022.6 L2209.3 1021.9 L2211.3 1020.8 L2213.3 1021.2 L2215.3 1019.6 L2217.3 1018.5 L2219.3 1017.8 L2221.3 1015.5 L2223.3 1011.6 L2225.3 1009.0 L2227.3 1005.8 L2229.3 1006.1 L2231.3 1002.2 L2233.3 1002.2 L2235.3 1000.1 L2237.3 1002.0 L2239.3 999.4 L2241.3 1001.2 L2243.3 998.9 L2245.3 997.9 L2247.3 991.7 L2249.3 987.9 L2251.3 983.9 L2253.3 980.1 L2255.3 975.2 L2257.3 970.4 L2259.3 966.3 L2261.3 961.3 L2263.3 955.5 L2265.3 952.5 L2267.3 949.4 L2269.3 947.0 L2271.3 942.8 L2273.3 940.9 L2275.3 937.4 L2278.6 933.4 L2280.4 933.2 L2282.1 930.1 L2283.9 930.1 L2285.7 926.0 L2288.5 929.0 L2291.2 927.2 L2294.0 929.0 L2297.0 925.8 L2300.0 925.5 L2300.5 921.5 L2301.0 920.7 L2301.5 916.2 L2302.0 915.0 L2302.5 911.2 L2303.0 910.5 L2303.5 906.4 L2304.3 905.6 L2305.2 900.7 L2306.0 900.8 L2306.9 896.1 L2307.7 895.5 L2309.1 897.3 L2310.4 901.8 L2311.8 902.0 L2312.6 906.5 L2313.4 907.8 L2314.2 911.8 L2315.0 912.5 L2315.8 916.9 L2316.6 917.4 L2318.1 922.7 L2319.6 923.4 L2321.0 927.9 L2322.5 928.2 L2325.5 928.4 L2328.5 925.2 L2328.9 924.3 L2329.4 919.1 L2329.8 918.5 L2330.2 914.3 L2330.7 913.0 L2331.1 909.2 L2331.6 908.5 L2332.0 903.1 L2332.7 902.5 L2333.4 898.3 L2334.1 896.9 L2334.7 892.5 L2335.4 891.8 L2336.1 886.9 L2336.8 886.3 L2337.6 881.8 L2338.5 881.3 L2339.3 876.8 L2340.2 875.4 L2341.0 870.6 L2341.9 870.6 L2342.7 865.1 L2344.3 870.2 L2345.9 870.6 L2347.5 874.3 L2348.1 875.5 L2348.7 879.5 L2349.3 880.6 L2349.8 885.1 L2350.4 886.4 L2351.0 890.9 L2351.6 891.6 L2352.2 895.8 L2353.2 896.5 L2354.1 900.9 L2355.1 900.8 L2356.0 906.0 L2357.0 906.0 L2358.2 905.9 L2359.3 900.9 L2360.5 900.9 L2361.7 896.5 L2361.9 895.3 L2362.0 891.5 L2362.2 891.3 L2362.3 886.5 L2362.5 886.2 L2362.7 880.9 L2362.8 880.9 L2363.0 875.7 L2363.1 875.6 L2363.3 870.7 L2363.5 870.6 L2363.6 865.7 L2363.8 865.0 L2363.9 861.4 L2364.1 860.6 L2364.3 856.2 L2364.5 855.1 L2364.8 851.1 L2365.0 850.5 L2365.2 845.1 L2365.4 845.3 L2365.6 839.8 L2365.8 839.7 L2366.1 835.2 L2366.3 834.2 L2366.5 830.0 L2368.2 829.9 L2370.0 827.3" fill="none" stroke="#ff0000" stroke-width="10.8" stroke-linejoin="round" stroke-linecap="butt"/>
<path d="M187.3 465.4 L189.3 467.4 L191.3 463.5 L193.3 467.2 L195.3 464.2 L197.3 468.2 L199.3 464.3 L201.3 466.5 L203.3 465.4 L205.3 468.3 L207.3 465.2 L209.3 467.0 L211.3 465.5 L213.3 468.6 L215.3 467.1 L217.3 469.4 L219.3 466.6 L221.3 468.6 L223.3 464.3 L225.3 469.9 L227.3 462.2 L229.3 470.4 L231.3 465.2 L233.3 472.2 L235.3 468.1 L237.3 471.8 L239.3 463.3 L241.3 477.0 L243.3 464.4 L245.3 477.4 L247.3 465.5 L249.3 478.2 L251.3 464.2 L253.3 478.5 L255.3 460.6 L257.3 478.5 L259.3 465.9 L261.3 471.6 L263.3 465.5 L265.3 471.5 L267.3 463.6 L269.3 471.3 L271.3 456.7 L273.3 489.1 L275.3 451.8 L277.0 434.0 L278.5 492.0 L279.3 454.8 L281.3 482.6 L283.3 454.6 L285.3 488.7 L287.3 460.2 L289.3 475.4 L291.3 461.6 L293.3 476.6 L295.3 459.0 L297.3 472.3 L299.3 460.2 L301.3 478.3 L303.3 452.4 L305.3 472.4 L307.3 459.9 L309.3 473.3 L311.3 458.0 L313.3 474.9 L315.3 458.7 L317.3 474.4 L319.3 463.3 L321.3 479.0 L323.3 462.3 L325.3 474.1 L327.3 470.0 L329.3 475.9 L331.3 468.1 L333.3 486.1 L335.3 467.8 L337.3 495.1 L339.3 460.6 L341.3 486.1 L343.3 461.2 L345.3 493.6 L347.3 460.6 L349.3 488.1 L351.3 462.3 L353.3 496.2 L355.3 466.0 L357.3 495.9 L359.3 468.1 L361.3 487.4 L363.3 479.3 L365.3 489.4 L367.3 473.9 L369.3 495.4 L371.3 477.9 L373.3 489.1 L375.3 482.6 L377.3 491.1 L379.3 484.0 L381.3 491.8 L383.3 485.3 L385.3 503.7 L387.3 482.6 L389.3 502.6 L391.3 488.9 L393.3 516.2 L395.3 498.4 L397.3 512.4 L399.3 509.8 L401.3 519.8 L403.3 511.4 L405.3 529.8 L407.3 512.7 L409.3 529.8 L411.3 522.7 L413.3 535.3 L415.3 530.9 L417.3 544.3 L419.3 540.4 L421.3 550.6 L423.3 550.6 L425.3 560.9 L427.3 557.0 L429.3 569.5 L431.3 566.5 L433.3 580.2 L435.3 577.9 L437.3 586.0 L439.3 587.7 L441.3 595.5 L443.3 597.0 L445.3 603.3 L447.3 608.0 L449.3 614.1 L451.3 618.1 L453.3 623.9 L455.3 627.8 L457.3 634.9 L459.3 637.3 L461.3 644.6 L463.3 646.7 L465.3 652.7 L467.3 656.5 L469.3 662.0 L471.3 665.8 L473.3 670.2 L475.3 673.1 L477.3 678.7 L479.3 680.4 L481.3 687.6 L483.3 687.3 L485.3 692.9 L487.3 694.9 L489.3 700.3 L491.3 702.5 L493.3 705.5 L495.3 708.1 L497.3 712.6 L499.3 713.9 L501.3 718.0 L503.3 718.7 L505.3 722.2 L507.3 723.6 L509.3 726.0 L511.3 728.0 L513.3 731.3 L515.3 731.6 L517.3 733.5 L519.3 734.3 L521.3 738.5 L523.3 738.0 L525.3 739.6 L527.3 741.3 L529.3 742.4 L531.3 743.5 L533.3 745.6 L535.3 746.2 L537.3 748.0 L539.3 748.8 L541.3 749.8 L543.3 751.0 L545.3 752.7 L547.3 751.4 L549.3 752.9 L551.3 753.5 L553.3 755.4 L555.3 754.1 L557.3 757.4 L559.3 755.8 L561.3 757.7 L563.3 755.6 L565.3 756.6 L567.3 757.8 L569.3 757.2 L571.3 757.5 L573.3 758.0 L575.3 756.1 L577.3 757.1 L579.3 757.8 L581.3 758.0 L583.3 756.6 L585.3 757.2 L587.3 756.2 L589.3 756.9 L591.3 756.9 L593.3 757.2 L595.3 756.9 L597.3 756.9 L599.3 755.3 L601.3 757.1 L603.3 755.8 L605.3 755.5 L607.3 755.1 L609.3 754.6 L611.3 754.1 L613.3 753.7 L615.3 751.9 L617.3 753.3 L619.3 750.7 L621.3 753.0 L623.3 751.1 L625.3 751.0 L627.3 749.3 L629.3 749.5 L631.3 746.7 L633.3 747.9 L635.3 745.3 L637.3 745.7 L639.3 745.3 L641.3 744.0 L643.3 742.0 L645.3 742.8 L647.3 741.9 L649.3 740.6 L651.3 740.0 L653.3 738.0 L655.3 736.6 L657.3 736.7 L659.3 733.5 L661.3 734.0 L663.3 730.8 L665.3 730.3 L667.3 726.9 L669.3 727.5 L671.3 723.6 L673.3 722.9 L675.3 720.9 L677.3 719.7 L679.3 717.8 L681.3 715.7 L683.3 712.3 L685.3 712.7 L687.3 710.5 L689.3 708.3 L691.3 705.8 L693.3 703.5 L695.3 699.9 L697.3 699.2 L699.3 696.5 L701.3 693.8 L703.3 691.9 L705.3 688.8 L707.3 685.3 L709.3 683.7 L711.3 680.0 L713.3 678.6 L715.3 675.8 L717.3 672.7 L719.3 669.7 L721.3 667.3 L723.3 663.3 L725.3 661.8 L727.3 658.8 L729.3 654.7 L731.3 651.5 L733.3 648.2 L735.3 645.2 L737.3 642.9 L739.3 638.9 L741.3 637.4 L743.3 633.5 L745.3 631.6 L747.3 627.5 L749.3 624.6 L751.3 620.8 L753.3 620.6 L755.3 616.0 L757.3 614.5 L759.3 612.4 L761.3 610.2 L763.3 606.9 L765.3 606.1 L767.3 602.8 L769.3 600.5 L771.3 598.6 L773.3 597.0 L775.3 594.5 L777.3 594.1 L779.3 589.0 L781.3 588.9 L783.3 587.1 L785.3 585.4 L787.3 584.1 L789.3 583.0 L791.3 580.2 L793.3 580.7 L795.3 580.6 L797.3 581.1 L799.3 581.0 L801.3 582.1 L803.3 584.4 L805.3 588.3 L807.3 591.4 L809.3 597.5 L811.3 606.9 L813.3 620.4 L815.3 633.5 L817.3 647.3 L819.3 662.9 L821.3 674.8 L823.3 686.6 L825.3 694.9 L827.3 697.1 L829.3 696.7 L831.3 697.7 L833.3 694.2 L835.3 688.3 L837.3 686.5 L839.3 684.7 L841.3 685.1 L843.3 688.1 L845.3 691.2 L847.3 692.2 L849.3 692.5 L851.3 692.0 L853.3 688.1 L855.3 683.2 L857.3 669.0 L859.3 651.3 L861.3 634.6 L863.3 628.2 L865.3 623.2 L867.3 618.7 L869.3 614.7 L871.3 612.7 L873.3 610.8 L875.3 610.7 L877.3 608.7 L879.3 604.9 L881.3 604.8 L883.3 601.8 L885.3 600.7 L887.3 598.4 L889.3 596.6 L891.3 594.8 L893.3 592.2 L895.3 590.5 L897.3 588.8 L899.3 585.0 L901.3 580.7 L903.3 576.7 L905.3 572.4 L907.3 569.4 L909.3 563.7 L911.3 560.0 L913.3 554.7 L915.3 549.6 L917.3 546.5 L919.3 544.0 L921.3 542.3 L923.3 540.4 L925.3 537.7 L927.3 535.5 L929.3 536.1 L931.3 533.3 L933.3 533.9 L935.3 532.6 L937.3 531.3 L939.3 531.1 L941.3 529.5 L943.3 529.3 L945.3 527.4 L947.3 526.1 L949.3 525.0 L951.3 523.8 L953.3 522.2 L955.3 521.3 L957.3 519.3 L959.3 517.1 L961.3 515.0 L963.3 515.6 L965.3 512.8 L967.3 512.1 L969.3 510.3 L971.3 509.5 L973.3 509.1 L975.3 507.8 L977.3 508.6 L979.3 506.1 L981.3 505.7 L983.3 505.2 L985.3 503.6 L987.3 502.6 L989.3 502.5 L991.3 501.2 L993.3 498.6 L995.3 497.7 L997.3 495.9 L999.3 494.2 L1001.3 493.1 L1003.3 491.5 L1005.3 489.0 L1007.3 488.0 L1009.3 486.9 L1011.3 485.0 L1013.3 481.3 L1015.3 479.0 L1017.3 478.1 L1019.3 475.9 L1021.3 473.0 L1023.3 471.5 L1025.3 468.7 L1027.3 467.8 L1029.3 466.4 L1031.3 464.0 L1033.3 462.4 L1035.3 461.5 L1037.3 460.5 L1039.3 459.6 L1041.3 460.0 L1043.3 459.2 L1045.3 457.7 L1047.3 456.5 L1049.3 456.1 L1051.3 456.2 L1053.3 455.6 L1055.3 455.7 L1057.3 454.9 L1059.3 454.6 L1061.3 455.7 L1063.3 455.6 L1065.3 455.2 L1067.3 455.8 L1069.3 455.6 L1071.3 454.6 L1073.3 455.6 L1075.3 455.0 L1077.3 456.6 L1079.3 457.6 L1081.3 459.2 L1083.3 457.4 L1085.3 456.1 L1087.3 454.9 L1089.3 453.7 L1091.3 453.7 L1093.3 452.2 L1095.3 452.3 L1097.3 450.1 L1099.3 450.5 L1101.3 448.9 L1103.3 448.2 L1105.3 448.2 L1107.3 448.0 L1109.3 447.7 L1111.3 445.9 L1113.3 446.9 L1115.3 445.0 L1117.3 445.1 L1119.3 444.3 L1121.3 445.4 L1123.3 444.5 L1125.3 444.1 L1127.3 442.0 L1129.3 441.0 L1131.3 442.6 L1133.3 441.6 L1135.3 440.7 L1137.3 441.3 L1139.3 441.7 L1141.3 441.6 L1143.3 442.2 L1145.3 441.8 L1147.3 442.0 L1149.3 440.9 L1151.3 441.6 L1153.3 442.5 L1155.3 441.0 L1157.3 441.1 L1159.3 442.3 L1161.3 441.0 L1163.3 442.6 L1165.3 444.5 L1167.3 450.8 L1169.3 453.8 L1171.3 457.0 L1173.3 458.5 L1175.3 459.9 L1177.3 457.2 L1179.3 453.7 L1181.3 449.8 L1183.3 450.3 L1185.3 453.6 L1187.3 457.1 L1189.3 458.2 L1191.3 454.7 L1193.3 451.9 L1195.3 450.0 L1197.3 451.2 L1199.3 450.7 L1201.3 451.9 L1203.3 454.2 L1205.3 455.2 L1207.3 458.4 L1209.3 460.8 L1211.3 461.4 L1213.3 461.8 L1215.3 460.4 L1217.3 458.6 L1219.3 456.2 L1221.3 453.2 L1223.3 450.1 L1225.3 448.3 L1227.3 446.5 L1229.3 446.8 L1231.3 445.2 L1233.3 444.9 L1235.3 445.3 L1237.3 444.5 L1239.3 445.9 L1241.3 445.2 L1243.3 444.8 L1245.3 445.5 L1247.3 445.4 L1249.3 445.1 L1251.3 444.9 L1253.3 444.4 L1255.3 444.9 L1257.3 445.6 L1259.3 445.1 L1261.3 445.4 L1263.3 445.0 L1265.3 445.9 L1267.3 448.1 L1269.3 448.4 L1271.3 449.2 L1273.3 450.6 L1275.3 449.8 L1277.3 449.3 L1279.3 450.1 L1281.3 451.4 L1283.3 451.0 L1285.3 451.7 L1287.3 452.2 L1289.3 451.7 L1291.3 452.8 L1293.3 453.1 L1295.3 453.8 L1297.3 454.2 L1299.3 454.7 L1301.3 455.2 L1303.3 454.5 L1305.3 455.6 L1307.3 455.1 L1309.3 454.2 L1311.3 454.8 L1313.3 454.6 L1315.3 455.4 L1317.3 455.5 L1319.3 455.0 L1321.3 455.8 L1323.3 454.8 L1325.3 455.5 L1327.3 455.0 L1329.3 454.9 L1331.3 455.3 L1333.3 454.9 L1335.3 455.7 L1337.3 454.6 L1339.3 455.0 L1341.3 455.5 L1343.3 455.6 L1345.3 457.5 L1347.3 458.9 L1349.3 458.7 L1351.3 459.2 L1353.3 459.1 L1355.3 457.5 L1357.3 458.3 L1359.3 457.7 L1361.3 458.3 L1363.3 458.4 L1365.3 459.0 L1367.3 457.5 L1369.3 457.6 L1371.3 459.3 L1373.3 458.1 L1375.3 457.6 L1377.3 459.0 L1379.3 457.4 L1381.3 459.2 L1383.3 459.2 L1385.3 458.3 L1387.3 457.6 L1389.3 459.1 L1391.3 457.8 L1393.3 457.8 L1395.3 458.6 L1397.3 459.9 L1399.3 460.0 L1401.3 460.1 L1403.3 459.8 L1405.3 461.7 L1407.3 462.8 L1409.3 462.2 L1411.3 462.4 L1413.3 463.3 L1415.3 465.0 L1417.3 465.5 L1419.3 465.2 L1421.3 466.1 L1423.3 467.8 L1425.3 468.2 L1427.3 469.1 L1429.3 468.7 L1431.3 468.7 L1433.3 470.1 L1435.3 470.1 L1437.3 472.3 L1439.3 471.7 L1441.3 473.2 L1443.3 473.3 L1445.3 475.1 L1447.3 475.2 L1449.3 475.9 L1451.3 477.0 L1453.3 476.6 L1455.3 478.2 L1457.3 477.3 L1459.3 478.5 L1461.3 478.3 L1463.3 479.9 L1465.3 478.8 L1467.3 480.7 L1469.3 481.0 L1471.3 480.1 L1473.3 482.3 L1475.3 482.5 L1477.3 481.6 L1479.3 482.0 L1481.3 482.2 L1483.3 483.9 L1485.3 483.4 L1487.3 485.2 L1489.3 485.6 L1491.3 485.4 L1493.3 487.1 L1495.3 488.9 L1497.3 488.4 L1499.3 488.8 L1501.3 490.2 L1503.3 491.0 L1505.3 492.8 L1507.3 493.2 L1509.3 493.0 L1511.3 494.5 L1513.3 494.6 L1515.3 496.2 L1517.3 497.5 L1519.3 497.4 L1521.3 499.4 L1523.3 500.6 L1525.3 501.9 L1527.3 502.2 L1529.3 504.4 L1531.3 506.3 L1533.3 508.5 L1535.3 508.3 L1537.3 511.6 L1539.3 513.6 L1541.3 517.5 L1543.3 523.2 L1545.3 530.6 L1547.3 545.4 L1549.3 560.8 L1551.3 581.5 L1553.3 605.1 L1555.3 629.1 L1557.3 651.1 L1559.3 665.7 L1561.3 677.6 L1563.3 685.6 L1565.3 694.1 L1567.3 698.7 L1569.3 701.6 L1571.3 704.9 L1573.3 705.7 L1575.3 704.4 L1577.3 701.9 L1579.3 697.9 L1581.3 685.3 L1583.3 669.0 L1585.3 648.4 L1587.3 630.2 L1589.3 615.8 L1591.3 610.5 L1593.3 606.2 L1595.3 604.8 L1597.3 602.5 L1599.3 603.2 L1601.3 603.2 L1603.3 602.9 L1605.3 601.5 L1607.3 600.7 L1609.3 599.5 L1611.3 595.9 L1613.3 594.2 L1615.3 591.2 L1617.3 588.7 L1619.3 585.8 L1621.3 581.9 L1623.3 576.6 L1625.3 572.9 L1627.3 568.4 L1629.3 566.8 L1631.3 562.7 L1633.3 560.9 L1635.3 562.9 L1637.3 562.7 L1639.3 562.9 L1641.3 564.0 L1643.3 565.6 L1645.3 566.1 L1647.3 565.2 L1649.3 565.2 L1651.3 565.4 L1653.3 564.3 L1655.3 564.4 L1657.3 566.0 L1659.3 564.9 L1661.3 561.3 L1663.3 560.4 L1665.3 558.0 L1667.3 558.2 L1669.3 561.4 L1671.3 564.1 L1673.3 568.1 L1675.3 570.4 L1677.3 572.9 L1679.3 574.2 L1681.3 572.2 L1683.3 571.7 L1685.3 570.3 L1687.3 572.1 L1689.3 575.3 L1691.3 578.5 L1693.3 583.2 L1695.3 588.3 L1697.3 591.7 L1699.3 593.9 L1701.3 596.1 L1703.3 597.3 L1705.3 600.2 L1707.3 606.8 L1709.3 615.5 L1711.3 625.9 L1713.3 634.3 L1715.3 643.2 L1717.3 652.2 L1719.3 661.0 L1721.3 668.3 L1723.3 674.3 L1725.3 681.1 L1727.3 687.4 L1729.3 695.4 L1731.3 701.2 L1733.3 704.0 L1735.3 707.9 L1737.3 711.1 L1739.3 712.8 L1741.3 713.7 L1743.3 714.7 L1745.3 715.6 L1747.3 715.7 L1749.3 714.2 L1751.3 713.3 L1753.3 712.1 L1755.3 710.9 L1757.3 705.7 L1759.3 701.2 L1761.3 696.2 L1763.3 691.5 L1765.3 687.1 L1767.3 684.2 L1769.3 685.0 L1771.3 690.5 L1773.3 699.3 L1775.3 707.0 L1777.3 711.8 L1779.3 709.5 L1781.3 705.7 L1783.3 699.2 L1785.3 694.1 L1787.3 690.4 L1789.3 688.9 L1791.3 687.7 L1793.3 687.3 L1795.3 688.7 L1797.3 691.7 L1799.3 694.0 L1801.3 693.0 L1803.3 692.9 L1805.3 693.8 L1807.3 692.9 L1809.3 692.9 L1811.3 693.2 L1813.3 691.2 L1815.3 689.2 L1817.3 688.7 L1819.3 688.4 L1821.3 687.9 L1823.3 686.1 L1825.3 687.8 L1827.3 689.1 L1829.3 692.2 L1831.3 697.2 L1833.3 703.4 L1835.3 712.3 L1837.3 717.9 L1839.3 721.2 L1841.3 725.0 L1843.3 727.0 L1845.3 725.9 L1847.3 726.4 L1849.3 726.4 L1851.3 725.0 L1853.3 724.4 L1855.3 722.1 L1857.3 717.4 L1859.3 712.5 L1861.3 707.3 L1863.3 703.3 L1865.3 699.2 L1867.3 692.5 L1869.3 682.7 L1871.3 672.9 L1873.3 665.0 L1875.3 655.2 L1877.3 649.3 L1879.3 645.4 L1881.3 643.2 L1883.3 641.3 L1885.3 639.0 L1887.3 635.8 L1889.3 635.6 L1891.3 633.5 L1893.3 632.9 L1895.3 631.0 L1897.3 629.1 L1899.3 628.6 L1901.3 625.8 L1903.3 626.0 L1905.3 624.6 L1907.3 624.7 L1909.3 624.5 L1911.3 626.9 L1913.3 635.7 L1915.3 656.2 L1917.3 691.1 L1919.3 710.0 L1921.3 710.5 L1923.3 711.4 L1925.3 710.8 L1927.3 710.6 L1929.3 710.4 L1931.3 710.6 L1933.3 712.6 L1935.3 713.7 L1937.3 717.9 L1939.3 720.8 L1941.3 725.2 L1943.3 729.5 L1945.3 731.8 L1947.3 732.2 L1949.3 734.3 L1951.3 732.9 L1953.3 733.2 L1955.3 729.7 L1957.3 727.3 L1959.3 726.2 L1961.3 720.4 L1963.3 717.1 L1965.3 713.0 L1967.3 710.5 L1969.3 708.8 L1971.3 705.4 L1973.3 704.0 L1975.3 701.8 L1977.3 699.8 L1979.3 698.1 L1981.3 698.0 L1983.3 696.9 L1985.3 694.0 L1987.3 693.9 L1989.3 693.0 L1991.3 692.0 L1993.3 689.9 L1995.3 680.0 L1997.3 665.0 L1999.3 653.9 L2001.3 645.1 L2003.3 633.7 L2005.3 624.0 L2007.3 616.2 L2009.3 612.0 L2011.3 607.5 L2013.3 604.0 L2015.3 602.2 L2017.3 600.6 L2019.3 598.6 L2021.3 598.0 L2023.3 598.5 L2025.3 600.2 L2027.3 602.4 L2029.3 605.5 L2031.3 609.6 L2033.3 615.5 L2035.3 620.6 L2037.3 623.3 L2039.3 625.4 L2041.3 626.0 L2043.3 629.2 L2045.3 628.7 L2047.3 631.1 L2049.3 631.6 L2051.3 631.1 L2053.3 631.6 L2055.3 631.8 L2057.3 630.3 L2059.3 628.9 L2061.3 627.8 L2063.3 626.5 L2065.3 624.0 L2067.3 619.5 L2069.3 618.0 L2071.3 616.8 L2073.3 614.2 L2075.3 613.3 L2077.3 612.0 L2079.3 612.1 L2081.3 612.2 L2083.3 614.4 L2085.3 616.0 L2087.3 629.8 L2089.3 651.0 L2091.3 668.4 L2093.3 678.0 L2095.3 681.2 L2097.3 683.7 L2099.3 682.4 L2101.3 682.0 L2103.3 680.0 L2105.3 677.5 L2107.3 674.4 L2109.3 671.0 L2111.3 669.4 L2113.3 663.7 L2115.3 660.4 L2117.3 654.4 L2119.3 649.5 L2121.3 644.4 L2123.3 640.6 L2125.3 637.9 L2127.3 634.4 L2129.3 633.5 L2131.3 633.3 L2133.3 632.2 L2135.3 632.5 L2137.3 631.8 L2139.3 631.8 L2141.3 632.4 L2143.3 632.7 L2145.3 634.2 L2147.3 635.5 L2149.3 637.2 L2151.3 639.1 L2153.3 640.7 L2155.3 642.3 L2157.3 642.4 L2159.3 644.5 L2161.3 645.1 L2163.3 646.3 L2165.3 648.9 L2167.3 649.6 L2169.3 652.1 L2171.3 651.7 L2173.3 652.0 L2175.3 653.8 L2177.3 654.7 L2179.3 654.3 L2181.3 656.5 L2183.3 657.3 L2185.3 658.9 L2187.3 659.3 L2189.3 660.3 L2191.3 662.6 L2193.3 664.0 L2195.3 664.8 L2197.3 665.6 L2199.3 666.4 L2201.3 666.7 L2203.3 667.3 L2205.3 666.1 L2207.3 667.8 L2209.3 667.7 L2211.3 666.0 L2213.3 666.8 L2215.3 666.1 L2217.3 665.9 L2219.3 665.5 L2221.3 665.8 L2223.3 663.5 L2225.3 661.9 L2227.3 661.3 L2229.3 660.9 L2231.3 660.8 L2233.3 660.7 L2235.3 660.3 L2237.3 661.0 L2239.3 660.8 L2241.3 658.6 L2243.3 657.6 L2245.3 653.6 L2247.3 651.1 L2249.3 649.7 L2251.3 647.3 L2253.3 644.3 L2255.3 643.4 L2257.3 640.7 L2259.3 638.3 L2261.3 634.8 L2263.3 632.9 L2265.3 631.4 L2267.3 628.7 L2269.3 626.2 L2271.3 624.4 L2273.3 622.9 L2275.0 618.7 L2276.4 620.9 L2277.8 615.1 L2279.3 616.9 L2280.7 611.1 L2282.1 612.8 L2284.5 606.9 L2286.9 609.3 L2288.7 607.0 L2290.4 612.7 L2292.2 610.9 L2294.0 615.9 L2295.2 614.4 L2296.4 619.7 L2297.6 620.0 L2298.8 625.4 L2299.2 618.2 L2299.6 620.6 L2299.9 612.5 L2300.3 615.0 L2300.7 606.7 L2301.1 608.2 L2301.3 603.1 L2301.5 602.9 L2301.7 596.6 L2301.9 597.9 L2302.1 592.5 L2302.3 592.6 L2302.5 586.1 L2302.7 587.6 L2302.9 582.3 L2303.1 583.3 L2303.3 576.2 L2303.5 577.0 L2305.3 572.1 L2307.1 574.4 L2308.8 573.3 L2310.6 580.4 L2310.9 578.5 L2311.1 586.3 L2311.4 583.6 L2311.7 590.5 L2311.9 590.6 L2312.2 596.1 L2312.5 595.9 L2312.7 601.7 L2313.0 600.2 L2316.0 605.8 L2319.0 601.9 L2319.9 609.5 L2320.8 607.2 L2321.7 613.7 L2322.6 612.2 L2323.4 619.4 L2324.3 618.3 L2325.2 624.9 L2326.1 622.8 L2329.6 625.5 L2330.0 619.4 L2330.4 620.6 L2330.8 613.3 L2331.2 614.9 L2331.6 607.0 L2332.0 608.9 L2332.3 602.1 L2332.6 603.4 L2332.9 597.5 L2333.2 598.8 L2333.5 590.7 L2333.8 591.8 L2334.1 587.2 L2334.4 587.4 L2336.0 581.7 L2337.5 581.8 L2339.1 575.6 L2340.1 576.0 L2341.0 569.4 L2342.0 571.5 L2342.9 563.9 L2343.9 565.4 L2346.2 563.6 L2348.6 568.7 L2348.9 566.6 L2349.1 573.6 L2349.4 573.1 L2349.7 578.8 L2349.9 577.6 L2350.2 585.3 L2350.5 582.7 L2350.7 590.3 L2351.0 587.6 L2351.4 594.6 L2351.8 593.3 L2352.2 600.4 L2352.6 597.8 L2353.0 604.4 L2353.4 603.9 L2353.8 610.1 L2354.2 608.6 L2354.6 614.0 L2355.0 613.6 L2355.4 619.9 L2355.8 617.7 L2360.5 621.7 L2360.8 614.0 L2361.0 615.4 L2361.3 608.1 L2361.6 609.4 L2361.8 603.4 L2362.1 605.9 L2362.4 598.7 L2362.6 598.9 L2362.9 593.9 L2363.1 593.4 L2363.3 587.4 L2363.6 589.0 L2363.8 582.0 L2364.0 584.7 L2364.2 578.5 L2364.4 578.4 L2364.6 572.8 L2364.9 573.1 L2365.1 568.1 L2365.3 567.9 L2366.2 562.5 L2367.1 563.6 L2367.9 557.4 L2368.8 560.0 L2368.9 558.5 L2369.0 563.4 L2369.2 562.0 L2369.3 568.9 L2369.4 568.0 L2369.5 574.2 L2369.6 572.5 L2369.8 580.7 L2369.9 578.4 L2370.0 583.1" fill="none" stroke="#ff00ff" stroke-width="10.8" stroke-linejoin="round" stroke-linecap="butt"/>
<path d="M187.3 146.2 L189.3 147.1 L191.3 147.3 L193.3 145.8 L195.3 146.2 L197.3 147.7 L199.3 147.1 L201.3 146.6 L203.3 147.5 L205.3 146.5 L207.3 148.1 L209.3 147.7 L211.3 151.0 L213.3 151.8 L215.3 155.8 L217.3 158.1 L219.3 160.2 L221.3 163.7 L223.3 165.4 L225.3 168.6 L227.3 171.8 L229.3 174.6 L231.3 175.8 L233.3 177.3 L235.3 180.1 L237.3 180.1 L239.3 182.6 L241.3 184.2 L243.3 187.1 L245.3 191.0 L247.3 198.6 L249.3 204.4 L251.3 209.8 L253.3 212.7 L255.3 214.6 L257.3 217.2 L259.3 218.3 L261.3 220.9 L263.3 224.3 L265.3 225.3 L267.3 228.5 L269.3 231.6 L271.3 235.2 L273.3 236.8 L275.3 239.3 L277.3 240.3 L279.3 242.6 L281.3 243.7 L283.3 244.3 L285.3 246.9 L287.3 246.3 L289.3 248.0 L291.3 247.6 L293.3 248.6 L295.3 248.9 L297.3 246.0 L299.3 246.0 L301.3 243.5 L303.3 240.6 L305.3 237.5 L307.3 236.6 L309.3 234.2 L311.3 233.1 L313.3 230.1 L315.3 225.0 L317.3 207.1 L319.3 198.9 L321.3 197.0 L323.3 195.2 L325.3 194.8 L327.3 198.7 L329.3 202.3 L331.3 208.0 L333.3 221.4 L335.3 234.8 L337.3 250.8 L339.3 267.9 L341.3 281.1 L343.3 292.9 L345.3 303.1 L347.3 304.0 L349.3 300.4 L351.3 295.5 L353.3 283.7 L355.3 267.4 L357.3 257.6 L359.3 253.2 L361.3 248.6 L363.3 247.1 L365.3 243.5 L367.3 239.1 L369.3 236.6 L371.3 234.6 L373.3 235.8 L375.3 240.6 L377.3 247.6 L379.3 252.3 L381.3 259.6 L383.3 267.1 L385.3 268.7 L387.3 266.2 L389.3 263.5 L391.3 258.0 L393.3 255.8 L395.3 264.3 L397.3 280.1 L399.3 282.6 L401.3 280.7 L403.3 274.7 L405.3 269.8 L407.3 267.3 L409.3 267.5 L411.3 277.4 L413.3 290.6 L415.3 297.0 L417.3 303.3 L419.3 305.5 L421.3 301.9 L423.3 300.1 L425.3 297.2 L427.3 293.1 L429.3 292.6 L431.3 292.7 L433.3 293.9 L435.3 293.9 L437.3 293.2 L439.3 292.4 L441.3 292.2 L443.3 288.8 L445.3 284.7 L447.3 282.4 L449.3 281.4 L451.3 278.0 L453.3 274.7 L455.3 273.7 L457.3 270.4 L459.3 269.5 L461.3 269.2 L463.3 270.5 L465.3 271.2 L467.3 271.2 L469.3 271.4 L471.3 271.9 L473.3 272.4 L475.3 271.3 L477.3 271.5 L479.3 271.1 L481.3 269.9 L483.3 269.7 L485.3 268.3 L487.3 265.7 L489.3 265.5 L491.3 264.2 L493.3 262.7 L495.3 261.0 L497.3 258.6 L499.3 256.5 L501.3 256.0 L503.3 254.8 L505.3 253.1 L507.3 250.4 L509.3 250.5 L511.3 248.4 L513.3 249.3 L515.3 247.6 L517.3 248.4 L519.3 247.0 L521.3 247.6 L523.3 248.0 L525.3 247.6 L527.3 246.7 L529.3 247.2 L531.3 246.8 L533.3 244.8 L535.3 245.0 L537.3 244.2 L539.3 242.8 L541.3 241.2 L543.3 239.8 L545.3 238.6 L547.3 236.4 L549.3 236.3 L551.3 234.6 L553.3 233.0 L555.3 231.3 L557.3 231.7 L559.3 229.0 L561.3 228.0 L563.3 227.7 L565.3 226.3 L567.3 224.0 L569.3 223.3 L571.3 221.2 L573.3 218.4 L575.3 216.9 L577.3 215.0 L579.3 213.6 L581.3 213.7 L583.3 211.9 L585.3 209.4 L587.3 208.8 L589.3 207.9 L591.3 206.8 L593.3 205.9 L595.3 203.6 L597.3 203.3 L599.3 202.0 L601.3 201.4 L603.3 199.2 L605.3 197.5 L607.3 195.7 L609.3 195.0 L611.3 193.7 L613.3 191.2 L615.3 191.1 L617.3 190.0 L619.3 187.8 L621.3 187.6 L623.3 186.1 L625.3 186.0 L627.3 184.5 L629.3 184.5 L631.3 182.5 L633.3 182.6 L635.3 180.9 L637.3 181.2 L639.3 179.7 L641.3 178.8 L643.3 179.1 L645.3 177.1 L647.3 177.3 L649.3 177.3 L651.3 175.5 L653.3 176.2 L655.3 175.9 L657.3 174.8 L659.3 175.1 L661.3 173.1 L663.3 173.8 L665.3 172.6 L667.3 173.4 L669.3 173.3 L671.3 172.5 L673.3 171.9 L675.3 172.1 L677.3 172.1 L679.3 171.7 L681.3 172.6 L683.3 171.5 L685.3 171.0 L687.3 171.3 L689.3 172.4 L691.3 173.0 L693.3 172.6 L695.3 172.5 L697.3 172.6 L699.3 173.8 L701.3 172.6 L703.3 174.3 L705.3 175.5 L707.3 174.8 L709.3 175.1 L711.3 176.0 L713.3 175.7 L715.3 177.1 L717.3 177.6 L719.3 178.4 L721.3 177.8 L723.3 177.4 L725.3 178.3 L727.3 178.7 L729.3 179.9 L731.3 178.6 L733.3 179.0 L735.3 179.7 L737.3 179.7 L739.3 179.8 L741.3 180.2 L743.3 180.9 L745.3 180.7 L747.3 182.6 L749.3 183.0 L751.3 182.5 L753.3 183.9 L755.3 185.1 L757.3 186.6 L759.3 187.1 L761.3 187.7 L763.3 188.8 L765.3 189.1 L767.3 190.3 L769.3 190.6 L771.3 189.6 L773.3 191.2 L775.3 190.7 L777.3 192.1 L779.3 193.3 L781.3 193.9 L783.3 195.9 L785.3 197.4 L787.3 198.8 L789.3 200.8 L791.3 202.0 L793.3 205.3 L795.3 205.8 L797.3 207.5 L799.3 208.6 L801.3 209.6 L803.3 209.9 L805.3 210.3 L807.3 209.6 L809.3 210.0 L811.3 209.1 L813.3 210.2 L815.3 209.1 L817.3 209.2 L819.3 210.2 L821.3 209.3 L823.3 209.5 L825.3 210.5 L827.3 209.8 L829.3 208.3 L831.3 205.4 L833.3 194.4 L835.3 188.0 L837.3 183.1 L839.3 180.4 L841.3 181.7 L843.3 183.1 L845.3 187.0 L847.3 190.4 L849.3 193.3 L851.3 195.5 L853.3 199.1 L855.3 201.7 L857.3 203.4 L859.3 206.3 L861.3 209.7 L863.3 211.8 L865.3 213.7 L867.3 215.1 L869.3 215.4 L871.3 215.6 L873.3 214.8 L875.3 210.6 L877.3 207.9 L879.3 205.5 L881.3 206.2 L883.3 206.0 L885.3 207.1 L887.3 210.6 L889.3 214.6 L891.3 221.5 L893.3 225.6 L895.3 226.0 L897.3 228.4 L899.3 230.0 L901.3 229.3 L903.3 229.5 L905.3 229.4 L907.3 227.7 L909.3 227.6 L911.3 226.4 L913.3 227.2 L915.3 227.3 L917.3 226.7 L919.3 228.2 L921.3 228.5 L923.3 230.3 L925.3 229.0 L927.3 230.5 L929.3 229.4 L931.3 230.8 L933.3 229.1 L935.3 229.2 L937.3 229.2 L939.3 229.6 L941.3 229.8 L943.3 230.9 L945.3 231.1 L947.3 230.7 L949.3 231.6 L951.3 233.2 L953.3 232.1 L955.3 232.9 L957.3 232.4 L959.3 233.0 L961.3 232.3 L963.3 232.1 L965.3 232.9 L967.3 233.0 L969.3 233.1 L971.3 233.0 L973.3 232.9 L975.3 232.0 L977.3 232.8 L979.3 232.6 L981.3 230.8 L983.3 229.2 L985.3 228.7 L987.3 227.6 L989.3 228.9 L991.3 228.1 L993.3 229.4 L995.3 229.0 L997.3 227.7 L999.3 228.5 L1001.3 228.2 L1003.3 227.6 L1005.3 227.5 L1007.3 228.1 L1009.3 228.7 L1011.3 228.4 L1013.3 228.1 L1015.3 228.4 L1017.3 230.4 L1019.3 231.4 L1021.3 231.8 L1023.3 232.8 L1025.3 232.8 L1027.3 231.9 L1029.3 233.0 L1031.3 232.2 L1033.3 233.1 L1035.3 233.3 L1037.3 231.6 L1039.3 233.3 L1041.3 234.1 L1043.3 233.8 L1045.3 234.3 L1047.3 235.6 L1049.3 235.4 L1051.3 234.3 L1053.3 235.9 L1055.3 234.6 L1057.3 235.7 L1059.3 235.9 L1061.3 235.9 L1063.3 235.8 L1065.3 234.3 L1067.3 234.8 L1069.3 234.4 L1071.3 234.3 L1073.3 235.8 L1075.3 234.5 L1077.3 234.9 L1079.3 232.7 L1081.3 231.8 L1083.3 231.1 L1085.3 230.4 L1087.3 228.9 L1089.3 227.8 L1091.3 226.4 L1093.3 225.1 L1095.3 223.5 L1097.3 221.3 L1099.3 221.5 L1101.3 219.6 L1103.3 218.8 L1105.3 218.6 L1107.3 218.2 L1109.3 217.4 L1111.3 217.7 L1113.3 218.1 L1115.3 217.1 L1117.3 217.0 L1119.3 217.6 L1121.3 215.7 L1123.3 215.4 L1125.3 216.7 L1127.3 214.8 L1129.3 215.5 L1131.3 213.4 L1133.3 214.7 L1135.3 213.9 L1137.3 213.2 L1139.3 212.3 L1141.3 211.0 L1143.3 210.3 L1145.3 209.4 L1147.3 210.0 L1149.3 209.0 L1151.3 208.8 L1153.3 208.4 L1155.3 207.5 L1157.3 206.1 L1159.3 205.1 L1161.3 205.6 L1163.3 204.0 L1165.3 202.7 L1167.3 196.7 L1169.3 186.6 L1171.3 181.7 L1173.3 177.9 L1175.3 182.5 L1177.3 193.1 L1179.3 209.3 L1181.3 222.9 L1183.3 232.0 L1185.3 236.7 L1187.3 231.0 L1189.3 218.3 L1191.3 203.3 L1193.3 199.5 L1195.3 197.4 L1197.3 201.8 L1199.3 205.2 L1201.3 207.6 L1203.3 209.3 L1205.3 212.4 L1207.3 214.5 L1209.3 216.1 L1211.3 216.1 L1213.3 218.3 L1215.3 217.5 L1217.3 217.1 L1219.3 217.8 L1221.3 214.8 L1223.3 212.7 L1225.3 209.1 L1227.3 204.1 L1229.3 202.6 L1231.3 201.5 L1233.3 202.2 L1235.3 200.0 L1237.3 199.8 L1239.3 199.1 L1241.3 199.9 L1243.3 199.1 L1245.3 197.4 L1247.3 196.9 L1249.3 197.3 L1251.3 196.3 L1253.3 195.0 L1255.3 195.4 L1257.3 195.4 L1259.3 194.7 L1261.3 193.7 L1263.3 193.4 L1265.3 193.1 L1267.3 192.2 L1269.3 192.0 L1271.3 192.5 L1273.3 192.5 L1275.3 190.8 L1277.3 190.8 L1279.3 190.4 L1281.3 190.9 L1283.3 191.8 L1285.3 191.7 L1287.3 190.7 L1289.3 191.3 L1291.3 190.5 L1293.3 190.1 L1295.3 189.4 L1297.3 187.5 L1299.3 187.5 L1301.3 187.8 L1303.3 189.2 L1305.3 187.5 L1307.3 187.5 L1309.3 187.5 L1311.3 188.2 L1313.3 187.6 L1315.3 188.0 L1317.3 188.3 L1319.3 188.7 L1321.3 188.2 L1323.3 188.9 L1325.3 188.9 L1327.3 189.4 L1329.3 187.8 L1331.3 187.6 L1333.3 187.7 L1335.3 187.8 L1337.3 188.4 L1339.3 189.1 L1341.3 188.7 L1343.3 187.6 L1345.3 189.0 L1347.3 187.9 L1349.3 189.0 L1351.3 188.3 L1353.3 188.8 L1355.3 189.3 L1357.3 187.6 L1359.3 190.1 L1361.3 191.9 L1363.3 192.7 L1365.3 192.9 L1367.3 193.5 L1369.3 191.6 L1371.3 191.9 L1373.3 191.6 L1375.3 192.8 L1377.3 191.3 L1379.3 191.6 L1381.3 192.8 L1383.3 191.1 L1385.3 192.3 L1387.3 192.3 L1389.3 192.3 L1391.3 192.2 L1393.3 191.9 L1395.3 192.4 L1397.3 192.4 L1399.3 191.0 L1401.3 192.3 L1403.3 191.5 L1405.3 192.2 L1407.3 191.7 L1409.3 192.7 L1411.3 192.2 L1413.3 192.6 L1415.3 192.3 L1417.3 191.5 L1419.3 191.2 L1421.3 191.2 L1423.3 190.2 L1425.3 189.3 L1427.3 189.8 L1429.3 189.4 L1431.3 189.1 L1433.3 189.0 L1435.3 189.9 L1437.3 189.0 L1439.3 190.0 L1441.3 190.4 L1443.3 190.2 L1445.3 188.6 L1447.3 189.0 L1449.3 189.7 L1451.3 190.5 L1453.3 188.9 L1455.3 190.4 L1457.3 189.5 L1459.3 190.7 L1461.3 190.7 L1463.3 189.1 L1465.3 190.3 L1467.3 189.5 L1469.3 190.3 L1471.3 192.4 L1473.3 193.5 L1475.3 194.5 L1477.3 194.6 L1479.3 195.1 L1481.3 195.7 L1483.3 194.9 L1485.3 196.2 L1487.3 194.9 L1489.3 195.2 L1491.3 195.1 L1493.3 195.7 L1495.3 195.3 L1497.3 196.2 L1499.3 197.3 L1501.3 198.5 L1503.3 200.0 L1505.3 199.6 L1507.3 199.2 L1509.3 200.1 L1511.3 199.0 L1513.3 199.5 L1515.3 200.3 L1517.3 201.3 L1519.3 202.9 L1521.3 204.5 L1523.3 206.7 L1525.3 209.6 L1527.3 209.5 L1529.3 210.6 L1531.3 211.7 L1533.3 213.7 L1535.3 214.0 L1537.3 216.3 L1539.3 217.8 L1541.3 217.8 L1543.3 219.8 L1545.3 223.2 L1547.3 226.3 L1549.3 237.3 L1551.3 242.5 L1553.3 247.3 L1555.3 250.6 L1557.3 251.9 L1559.3 253.7 L1561.3 256.6 L1563.3 257.6 L1565.3 261.3 L1567.3 264.9 L1569.3 272.0 L1571.3 277.2 L1573.3 284.7 L1575.3 287.7 L1577.3 284.5 L1579.3 281.3 L1581.3 278.3 L1583.3 276.9 L1585.3 274.9 L1587.3 273.3 L1589.3 273.0 L1591.3 273.8 L1593.3 273.0 L1595.3 274.5 L1597.3 272.8 L1599.3 273.3 L1601.3 273.5 L1603.3 275.1 L1605.3 275.8 L1607.3 274.9 L1609.3 277.2 L1611.3 282.2 L1613.3 285.9 L1615.3 287.1 L1617.3 289.4 L1619.3 289.3 L1621.3 288.1 L1623.3 286.5 L1625.3 283.2 L1627.3 282.0 L1629.3 277.5 L1631.3 273.1 L1633.3 269.0 L1635.3 264.9 L1637.3 261.4 L1639.3 257.1 L1641.3 252.1 L1643.3 248.7 L1645.3 245.6 L1647.3 242.0 L1649.3 241.7 L1651.3 238.5 L1653.3 238.1 L1655.3 241.0 L1657.3 243.5 L1659.3 246.0 L1661.3 244.4 L1663.3 243.3 L1665.3 242.6 L1667.3 242.8 L1669.3 245.5 L1671.3 250.0 L1673.3 252.7 L1675.3 258.7 L1677.3 264.0 L1679.3 268.3 L1681.3 273.2 L1683.3 277.7 L1685.3 280.1 L1687.3 284.2 L1689.3 287.4 L1691.3 290.8 L1693.3 293.3 L1695.3 293.0 L1697.3 294.7 L1699.3 295.1 L1701.3 294.7 L1703.3 294.9 L1705.3 294.4 L1707.3 297.4 L1709.3 298.9 L1711.3 301.1 L1713.3 305.3 L1715.3 306.8 L1717.3 309.3 L1719.3 311.7 L1721.3 315.3 L1723.3 316.4 L1725.3 318.2 L1727.3 321.7 L1729.3 323.8 L1731.3 324.6 L1733.3 327.2 L1735.3 328.3 L1737.3 328.4 L1739.3 328.6 L1741.3 330.5 L1743.3 330.8 L1745.3 331.6 L1747.3 331.0 L1749.3 331.2 L1751.3 330.4 L1753.3 329.3 L1755.3 327.6 L1757.3 323.7 L1759.3 320.4 L1761.3 319.1 L1763.3 318.8 L1765.3 318.1 L1767.3 317.9 L1769.3 318.5 L1771.3 322.9 L1773.3 327.0 L1775.3 331.1 L1777.3 331.3 L1779.3 331.8 L1781.3 331.3 L1783.3 329.3 L1785.3 325.4 L1787.3 325.1 L1789.3 324.9 L1791.3 325.5 L1793.3 326.0 L1795.3 325.8 L1797.3 329.6 L1799.3 334.6 L1801.3 337.5 L1803.3 339.5 L1805.3 341.4 L1807.3 342.6 L1809.3 341.2 L1811.3 339.7 L1813.3 337.6 L1815.3 335.5 L1817.3 333.8 L1819.3 332.6 L1821.3 331.7 L1823.3 329.3 L1825.3 331.3 L1827.3 334.8 L1829.3 337.7 L1831.3 342.1 L1833.3 347.1 L1835.3 351.0 L1837.3 355.5 L1839.3 358.5 L1841.3 361.3 L1843.3 363.2 L1845.3 364.6 L1847.3 366.1 L1849.3 365.8 L1851.3 364.0 L1853.3 364.4 L1855.3 363.7 L1857.3 361.6 L1859.3 358.6 L1861.3 355.4 L1863.3 351.2 L1865.3 344.1 L1867.3 336.8 L1869.3 331.5 L1871.3 324.2 L1873.3 318.4 L1875.3 313.2 L1877.3 309.0 L1879.3 304.2 L1881.3 300.7 L1883.3 297.4 L1885.3 295.4 L1887.3 293.5 L1889.3 291.1 L1891.3 288.5 L1893.3 288.0 L1895.3 285.4 L1897.3 282.9 L1899.3 281.0 L1901.3 280.6 L1903.3 279.1 L1905.3 280.0 L1907.3 279.6 L1909.3 278.7 L1911.3 283.4 L1913.3 292.0 L1915.3 302.5 L1917.3 315.2 L1919.3 329.5 L1921.3 332.6 L1923.3 331.9 L1925.3 329.6 L1927.3 327.6 L1929.3 326.0 L1931.3 325.3 L1933.3 323.9 L1935.3 324.5 L1937.3 330.5 L1939.3 334.4 L1941.3 336.1 L1943.3 339.6 L1945.3 340.7 L1947.3 339.8 L1949.3 337.8 L1951.3 338.0 L1953.3 335.5 L1955.3 333.5 L1957.3 331.6 L1959.3 331.0 L1961.3 333.8 L1963.3 337.2 L1965.3 340.9 L1967.3 344.7 L1969.3 348.7 L1971.3 351.5 L1973.3 350.9 L1975.3 349.4 L1977.3 345.4 L1979.3 345.6 L1981.3 344.0 L1983.3 344.2 L1985.3 344.4 L1987.3 344.4 L1989.3 343.2 L1991.3 342.0 L1993.3 340.6 L1995.3 334.7 L1997.3 320.0 L1999.3 297.8 L2001.3 274.2 L2003.3 257.6 L2005.3 244.5 L2007.3 231.9 L2009.3 218.1 L2011.3 205.0 L2013.3 194.2 L2015.3 184.5 L2017.3 179.7 L2019.3 176.9 L2021.3 175.4 L2023.3 175.0 L2025.3 178.3 L2027.3 183.9 L2029.3 191.2 L2031.3 200.6 L2033.3 209.4 L2035.3 219.1 L2037.3 227.0 L2039.3 236.5 L2041.3 244.5 L2043.3 249.6 L2045.3 255.3 L2047.3 259.2 L2049.3 263.7 L2051.3 266.9 L2053.3 272.4 L2055.3 275.6 L2057.3 278.0 L2059.3 279.7 L2061.3 281.1 L2063.3 281.7 L2065.3 281.0 L2067.3 280.9 L2069.3 281.0 L2071.3 282.6 L2073.3 281.4 L2075.3 282.1 L2077.3 282.3 L2079.3 282.3 L2081.3 285.7 L2083.3 289.7 L2085.3 298.8 L2087.3 311.9 L2089.3 323.6 L2091.3 334.4 L2093.3 347.6 L2095.3 351.6 L2097.3 354.7 L2099.3 356.0 L2101.3 356.6 L2103.3 356.5 L2105.3 355.3 L2107.3 352.8 L2109.3 352.1 L2111.3 349.1 L2113.3 344.1 L2115.3 341.6 L2117.3 335.6 L2119.3 330.2 L2121.3 322.2 L2123.3 316.2 L2125.3 311.4 L2127.3 306.0 L2129.3 301.0 L2131.3 298.3 L2133.3 294.5 L2135.3 291.1 L2137.3 289.5 L2139.3 289.5 L2141.3 288.6 L2143.3 287.5 L2145.3 286.6 L2147.3 286.2 L2149.3 287.6 L2151.3 288.0 L2153.3 288.8 L2155.3 290.7 L2157.3 290.5 L2159.3 292.5 L2161.3 289.3 L2163.3 286.6 L2165.3 285.5 L2167.3 283.6 L2169.3 283.1 L2171.3 281.5 L2173.3 281.3 L2175.3 281.4 L2177.3 281.8 L2179.3 282.0 L2181.3 282.4 L2183.3 282.2 L2185.3 282.3 L2187.3 282.8 L2189.3 285.4 L2191.3 285.5 L2193.3 286.4 L2195.3 285.4 L2197.3 286.2 L2199.3 283.7 L2201.3 283.7 L2203.3 282.2 L2205.3 276.6 L2207.3 271.0 L2209.3 265.8 L2211.3 262.7 L2213.3 261.7 L2215.3 258.8 L2217.3 256.5 L2219.3 254.2 L2221.3 249.7 L2223.3 246.1 L2225.3 241.0 L2227.3 235.3 L2229.3 229.8 L2231.3 223.6 L2233.3 217.1 L2235.3 213.8 L2237.3 209.2 L2239.3 206.9 L2241.3 201.2 L2243.3 196.6 L2245.3 193.2 L2247.3 186.6 L2249.3 178.0 L2251.3 167.0 L2253.3 159.9 L2255.3 152.3 L2257.3 145.7 L2259.3 139.5 L2261.3 130.9 L2263.3 124.4 L2265.3 118.1 L2267.9 109.8 L2269.7 108.9 L2271.4 105.7 L2273.2 104.4 L2275.0 101.3 L2277.8 100.9 L2280.5 98.3 L2283.3 97.9 L2286.9 97.5 L2290.5 99.0 L2291.4 101.1 L2292.2 104.8 L2293.1 106.8 L2294.0 110.6 L2295.0 112.9 L2295.9 116.7 L2296.9 118.1 L2297.8 122.4 L2298.8 124.0 L2301.2 125.9 L2303.6 125.6 L2305.9 127.6 L2308.3 127.3 L2309.5 131.3 L2310.7 133.2 L2311.8 136.8 L2313.0 138.4 L2314.6 141.7 L2316.2 142.9 L2317.8 146.4 L2319.8 142.9 L2321.7 141.8 L2323.7 138.4 L2324.5 136.9 L2325.3 133.3 L2326.1 131.6 L2326.9 127.8 L2327.7 126.3 L2328.5 122.7 L2329.9 121.2 L2331.3 117.9 L2332.8 116.6 L2334.2 113.1 L2335.6 111.7 L2337.0 108.5 L2338.4 107.5 L2339.9 103.6 L2341.3 102.4 L2342.7 98.8 L2344.2 102.5 L2345.6 104.2 L2347.1 108.0 L2348.6 109.7 L2349.3 113.4 L2350.0 115.2 L2350.7 119.1 L2351.3 120.8 L2352.0 124.3 L2352.7 125.8 L2353.4 129.7 L2355.8 130.2 L2358.1 132.4 L2358.3 128.4 L2358.5 127.0 L2358.8 123.1 L2359.0 121.6 L2359.2 118.2 L2359.4 116.4 L2359.6 113.2 L2359.8 111.6 L2360.1 108.0 L2360.3 106.4 L2360.5 102.7 L2360.7 101.0 L2360.9 97.4 L2361.2 95.4 L2361.4 91.7 L2361.6 90.1 L2361.8 86.5 L2362.0 84.5 L2362.2 81.2 L2362.5 79.3 L2362.7 75.3 L2362.9 73.8 L2363.2 70.1 L2363.4 69.0 L2363.7 65.4 L2363.9 63.7 L2364.2 60.1 L2364.4 58.9 L2364.7 54.8 L2364.8 53.5 L2364.9 49.3 L2365.0 47.7 L2365.0 43.8 L2365.1 42.1 L2365.2 38.1 L2365.3 36.0" fill="none" stroke="#808000" stroke-width="10.8" stroke-linejoin="round" stroke-linecap="butt"/>
</g>
<rect x="402.5" y="140.5" width="376.3" height="2066.5" fill="#5b9bd5" fill-opacity="0.17"/>
<rect x="1523" y="140.5" width="79.3" height="2066.5" fill="#ff0000" fill-opacity="0.2"/>
<rect x="1789.5" y="140.5" width="204.2" height="2066.5" fill="#92d050" fill-opacity="0.22"/>
<rect x="2008.5" y="140.5" width="109.7" height="2066.5" fill="#ffff00" fill-opacity="0.2"/>
<!-- axes -->
<path d="M187.4 2248.3V35H2372V2217.8H186" fill="none" stroke="#262626" stroke-width="3"/>
<path d="M490.9 2217V2248.3M794.2 2217V2248.3M1097.5 2217V2248.3M1400.8 2217V2248.3M1704.1 2217V2248.3M2007.4 2217V2248.3M2310.7 2217V2248.3" fill="none" stroke="#262626" stroke-width="3"/>
<text transform="translate(187.6 2345.5) scale(1.03 1)" font-size="98" text-anchor="middle">4000</text>
<text transform="translate(490.9 2345.5) scale(1.03 1)" font-size="98" text-anchor="middle">3500</text>
<text transform="translate(794.2 2345.5) scale(1.03 1)" font-size="98" text-anchor="middle">3000</text>
<text transform="translate(1097.5 2345.5) scale(1.03 1)" font-size="98" text-anchor="middle">2500</text>
<text transform="translate(1400.8 2345.5) scale(1.03 1)" font-size="98" text-anchor="middle">2000</text>
<text transform="translate(1704.1 2345.5) scale(1.03 1)" font-size="98" text-anchor="middle">1500</text>
<text transform="translate(2007.4 2345.5) scale(1.03 1)" font-size="98" text-anchor="middle">1000</text>
<text transform="translate(2310.7 2345.5) scale(1.03 1)" font-size="98" text-anchor="middle">500</text>
<text transform="translate(216.5 138.7) scale(1.06 1)" font-size="103" class="b">(f)</text>
<text transform="translate(207.5 413) scale(1.06 1)" font-size="103" class="b">(e)</text>
<text transform="translate(211.5 767) scale(1.06 1)" font-size="103" class="b">(d)</text>
<text transform="translate(207.5 1150) scale(1.06 1)" font-size="103" class="b">(c)</text>
<text transform="translate(211.5 1470) scale(1.06 1)" font-size="103" class="b">(b)</text>
<text transform="translate(211.5 1873.5) scale(1.06 1)" font-size="103" class="b">(a)</text>
<text transform="translate(461 1181) scale(1.03 1)" font-size="110">-OH</text>
<text transform="translate(1314 1181) scale(1.03 1)" font-size="110">C=O</text>
<text transform="translate(1799 1261) scale(1.03 1)" font-size="110">C-O</text>
<text transform="translate(1987 949) scale(1.03 1)" font-size="110">C=C</text>
<text class="b" x="731" y="2532" font-size="128" textLength="1097.5" lengthAdjust="spacingAndGlyphs">Wavenumber (cm<tspan font-size="100" dy="-38.8" font-weight="normal">−</tspan><tspan font-size="83" dy="-13.2">1</tspan><tspan dy="52">)</tspan></text>
<text class="b" transform="translate(117 1506) rotate(-90)" font-size="128" textLength="1025.6" lengthAdjust="spacingAndGlyphs">Transmittance (%)</text>
</svg>
</body></html>
